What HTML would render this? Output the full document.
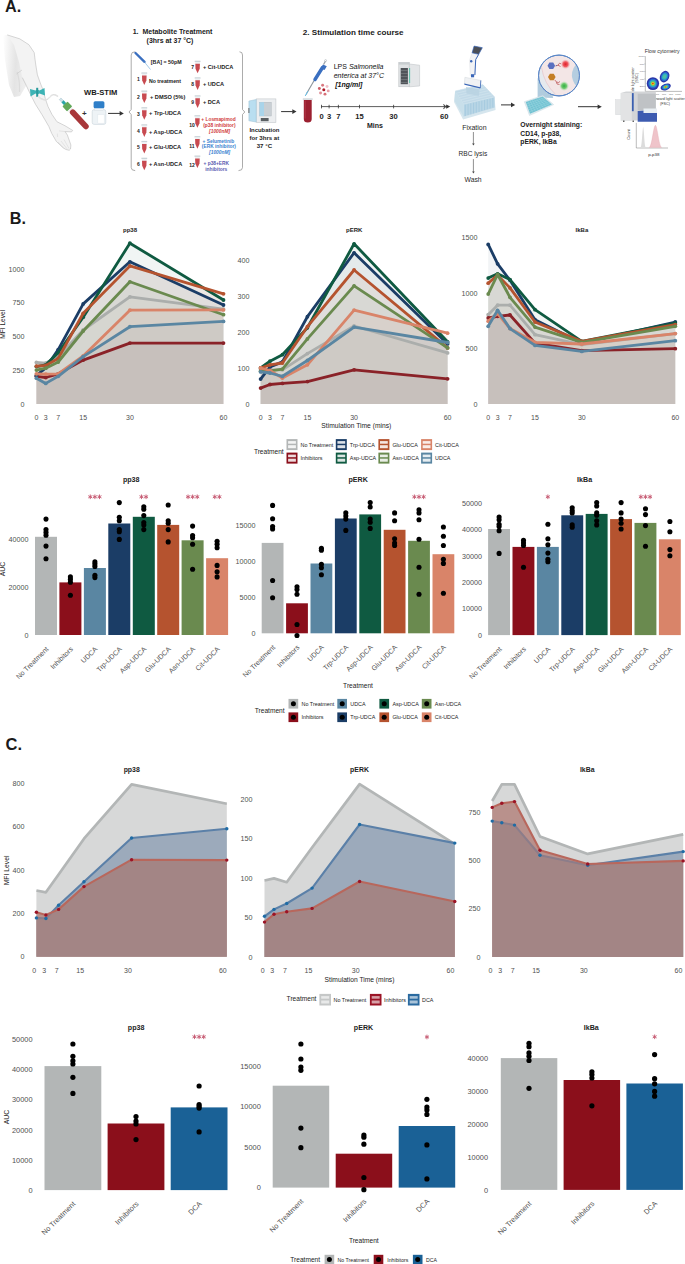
<!DOCTYPE html>
<html><head><meta charset="utf-8"><style>
html,body{margin:0;padding:0;background:#fff;width:685px;height:1264px;overflow:hidden}
svg{display:block;font-family:"Liberation Sans", sans-serif}
</style></head><body>
<svg width="685" height="1264" viewBox="0 0 685 1264">
<rect width="685" height="1264" fill="#fff"/>
<text x="5" y="11.7" font-size="16.2" font-weight="bold" fill="#1a1a1a">A.</text>
<text x="9.8" y="223.5" font-size="16.2" font-weight="bold" fill="#1a1a1a">B.</text>
<text x="5.5" y="750" font-size="16.5" font-weight="bold" fill="#1a1a1a">C.</text>
<defs>
<linearGradient id="armShade" x1="0" y1="0" x2="1" y2="0">
 <stop offset="0" stop-color="#ffffff"/><stop offset="0.35" stop-color="#e9e9e9"/><stop offset="1" stop-color="#f3f3f3"/>
</linearGradient>
<radialGradient id="glowR"><stop offset="0" stop-color="#e0202a"/><stop offset="0.5" stop-color="#ee5a60"/><stop offset="1" stop-color="#f4c0c4" stop-opacity="0"/></radialGradient>
<radialGradient id="glowG"><stop offset="0" stop-color="#30b040"/><stop offset="0.5" stop-color="#70c870"/><stop offset="1" stop-color="#c0e8c0" stop-opacity="0"/></radialGradient>
</defs>
<path d="M7.2,34.9 L19.7,38.8 L28.9,44.7 L34.2,52.6 L35.5,63.1 L37.4,74.9 L40.7,84.1 L43.4,90.7 L45.3,98.6 L48,106.5 L51.9,114.3 L56.9,121.7 L65.1,125.8 L72.7,130.4 L71.5,131.9 L65.1,131.6 L67.4,135.1 L70.9,145 L70.5,149 L69.2,150.3 L66,149.5 L63.4,148 L56.4,141.5 L51.7,133.4 L48.8,126.4 L42,114.7 L35.5,104.3 L30.2,93.8 L26.3,85.6 L22.3,77.6 L18,68 L12,58 L6,45 L4,36 Z" fill="#f3f3f3" stroke="none"/>
<linearGradient id="sh2" x1="0" y1="0" x2="1" y2="0.15"><stop offset="0" stop-color="#fff" stop-opacity="1"/><stop offset="0.6" stop-color="#e4e4e4"/><stop offset="1" stop-color="#eeeeee"/></linearGradient>
<path d="M3,36 L7.2,34.9 L14,45 L19,62 L22.3,77.6 L26.3,85.6 L20,96 L14,97 L9,85 L5,60 Z" fill="url(#sh2)"/>
<path d="M17,72 Q20,80 19.5,92" stroke="#dcdcdc" stroke-width="1.2" fill="none"/>
<path d="M7.2,34.9 L19.7,38.8 L28.9,44.7 L34.2,52.6 L35.5,63.1 L37.4,74.9 L40.7,84.1 L43.4,90.7 L45.3,98.6 L48,106.5 L51.9,114.3 L56.9,121.7 L65.1,125.8 L72.7,130.4 L71.5,131.9 L65.1,131.6 L67.4,135.1 L70.9,145 L70.5,149 L69.2,150.3 L66,149.5 L63.4,148 L56.4,141.5 L51.7,133.4 L48.8,126.4 L42,114.7 L35.5,104.3 L30.2,93.8 L26.3,85.6 L22.3,77.6" fill="none" stroke="#b5b5b5" stroke-width="0.55" stroke-linejoin="round"/>
<path d="M16.5,74 L22,70" stroke="#c0c0c0" stroke-width="0.5" fill="none"/>
<path d="M58,142 L64,148.5 M61,141 L67,148.8 M64,139.5 L69,148.5 M57.3,133.5 L57.6,137 M59,130.9 L65.1,131.6" stroke="#c4c4c4" stroke-width="0.35" fill="none"/>
<path d="M30,89 L35.5,90.5 L37.5,89.5 L39.5,90.5 L44.5,88 L45,95.5 L39.5,93.5 L37.5,94.5 L35.5,93.5 L30.5,96.5 Z" fill="#3db3b5"/>
<rect x="36.2" y="87.8" width="2" height="9" fill="#2a9a9c"/>
<path d="M38,96 C42,101 47,101 50,97 C52,94 55,94 58,96.5" stroke="#d0d0d0" stroke-width="1.2" fill="none"/>
<path d="M38,96 C42,101 47,101 50,97 C52,94 55,94 58,96.5" stroke="#f8f8f8" stroke-width="0.5" fill="none"/>
<g transform="translate(69,108.3) rotate(47)">
<rect x="-13" y="-1.2" width="4" height="2.4" fill="#cfe3ea" stroke="#8ab" stroke-width="0.3"/>
<rect x="-9.5" y="-1.5" width="4" height="3" fill="#2aa5a8"/>
<rect x="-6" y="-3.6" width="7" height="7.2" rx="1" fill="#63a85a"/>
<rect x="1" y="-2.8" width="1.8" height="5.6" fill="#f0f0f0"/>
<rect x="2.6" y="-2.9" width="25" height="5.8" rx="2.9" fill="#a8373a"/>
</g>
<text x="84.4" y="115.6" font-size="8" text-anchor="middle" font-weight="bold" font-style="normal" fill="#333" >+</text>
<text x="84" y="95.0" font-size="7.6" text-anchor="start" font-weight="bold" font-style="normal" fill="#1a1a1a" >WB-STIM</text>
<rect x="92.2" y="109.6" width="13.6" height="14.8" rx="2" fill="#eef3f6" stroke="#c7d3da" stroke-width="0.6"/>
<rect x="94.2" y="107.6" width="9.6" height="3" fill="#f4f6f8" stroke="#cdd6dc" stroke-width="0.4"/>
<rect x="93.6" y="101.2" width="10.8" height="7" rx="1.5" fill="#2f7fc8"/>
<rect x="97.9" y="114.7" width="6.2" height="8.4" fill="#ffffff" stroke="#d8dfe4" stroke-width="0.3"/>
<line x1="108.1" y1="113.4" x2="120.1" y2="113.4" stroke="#333" stroke-width="1.0"/>
<path d="M123.8,113.4 L119.6,111.09 L119.6,115.71000000000001 Z" fill="#333"/>
<text x="132.7" y="33.6" font-size="7.0" text-anchor="start" font-weight="bold" font-style="normal" fill="#222" >1.&#160;&#160;Metabolite Treatment</text>
<text x="146.6" y="42.8" font-size="6.95" text-anchor="start" font-weight="bold" font-style="normal" fill="#222" >(3hrs at 37 °C)</text>
<path d="M135.2,51.8 Q131.2,51.8 131.2,55 L131.2,109.5 L129,112 L131.2,114.5 L131.2,167.5 Q131.2,170.6 135.2,170.6" fill="none" stroke="#888" stroke-width="0.7"/>
<path d="M239.5,51.8 Q242.5,51.8 242.5,55 L242.5,109.5 L244.8,112 L242.5,114.5 L242.5,167.5 Q242.5,170.6 238.5,170.6" fill="none" stroke="#888" stroke-width="0.7"/>
<path d="M135.5,53 L144.5,61.8" stroke="#3a6fc0" stroke-width="2.4" stroke-linecap="round"/>
<path d="M144,61.5 L150.5,69.5" stroke="#6aa8d8" stroke-width="0.6"/>
<text x="150.8" y="64.3" font-size="5.3" text-anchor="start" font-weight="bold" font-style="normal" fill="#222" >[BA] = 50pM</text>
<rect x="141.4" y="72.4" width="5.8" height="1.4" fill="#c9d3d8"/>
<rect x="141.9" y="73.80000000000001" width="4.8" height="1.6" fill="#eef1f3"/>
<path d="M142.0,75.4 L146.60000000000002,75.4 L146.4,80.4 L144.3,85.0 L142.20000000000002,80.4 Z" fill="#c84a50"/>
<text x="138.4" y="80.9" font-size="5" text-anchor="middle" font-weight="bold" font-style="normal" fill="#222" >1</text>
<text x="149" y="83.2" font-size="5.2" text-anchor="start" font-weight="bold" font-style="normal" fill="#1a1a1a" >No treatment</text>
<rect x="141.4" y="90.5" width="5.8" height="1.4" fill="#c9d3d8"/>
<rect x="141.9" y="91.9" width="4.8" height="1.6" fill="#eef1f3"/>
<path d="M142.0,93.5 L146.60000000000002,93.5 L146.4,98.5 L144.3,103.1 L142.20000000000002,98.5 Z" fill="#c84a50"/>
<text x="138.4" y="99.0" font-size="5" text-anchor="middle" font-weight="bold" font-style="normal" fill="#222" >2</text>
<text x="150" y="98.5" font-size="5.65" text-anchor="start" font-weight="bold" font-style="normal" fill="#1a1a1a" >+ DMSO (5%)</text>
<rect x="141.4" y="107.2" width="5.8" height="1.4" fill="#c9d3d8"/>
<rect x="141.9" y="108.60000000000001" width="4.8" height="1.6" fill="#eef1f3"/>
<path d="M142.0,110.2 L146.60000000000002,110.2 L146.4,115.2 L144.3,119.8 L142.20000000000002,115.2 Z" fill="#c84a50"/>
<text x="138.4" y="115.7" font-size="5" text-anchor="middle" font-weight="bold" font-style="normal" fill="#222" >3</text>
<text x="149" y="115.2" font-size="5.7" text-anchor="start" font-weight="bold" font-style="normal" fill="#1a1a1a" >+ Trp-UDCA</text>
<rect x="141.4" y="124.3" width="5.8" height="1.4" fill="#c9d3d8"/>
<rect x="141.9" y="125.7" width="4.8" height="1.6" fill="#eef1f3"/>
<path d="M142.0,127.3 L146.60000000000002,127.3 L146.4,132.3 L144.3,136.9 L142.20000000000002,132.3 Z" fill="#c84a50"/>
<text x="138.4" y="132.8" font-size="5" text-anchor="middle" font-weight="bold" font-style="normal" fill="#222" >4</text>
<text x="149" y="133.6" font-size="5.6" text-anchor="start" font-weight="bold" font-style="normal" fill="#1a1a1a" >+ Asp-UDCA</text>
<rect x="141.4" y="140.9" width="5.8" height="1.4" fill="#c9d3d8"/>
<rect x="141.9" y="142.3" width="4.8" height="1.6" fill="#eef1f3"/>
<path d="M142.0,143.9 L146.60000000000002,143.9 L146.4,148.9 L144.3,153.5 L142.20000000000002,148.9 Z" fill="#c84a50"/>
<text x="138.4" y="149.4" font-size="5" text-anchor="middle" font-weight="bold" font-style="normal" fill="#222" >5</text>
<text x="149" y="148.9" font-size="5.6" text-anchor="start" font-weight="bold" font-style="normal" fill="#1a1a1a" >+ Glu-UDCA</text>
<rect x="141.4" y="157.7" width="5.8" height="1.4" fill="#c9d3d8"/>
<rect x="141.9" y="159.1" width="4.8" height="1.6" fill="#eef1f3"/>
<path d="M142.0,160.7 L146.60000000000002,160.7 L146.4,165.7 L144.3,170.29999999999998 L142.20000000000002,165.7 Z" fill="#c84a50"/>
<text x="138.4" y="166.2" font-size="5" text-anchor="middle" font-weight="bold" font-style="normal" fill="#222" >6</text>
<text x="149" y="166.3" font-size="5.6" text-anchor="start" font-weight="bold" font-style="normal" fill="#1a1a1a" >+ Asn-UDCA</text>
<rect x="194.7" y="60.7" width="5.8" height="1.4" fill="#c9d3d8"/>
<rect x="195.2" y="62.1" width="4.8" height="1.6" fill="#eef1f3"/>
<path d="M195.29999999999998,63.7 L199.9,63.7 L199.7,68.7 L197.6,73.3 L195.5,68.7 Z" fill="#c84a50"/>
<text x="192.6" y="69.2" font-size="5" text-anchor="middle" font-weight="bold" font-style="normal" fill="#222" >7</text>
<text x="203" y="69.2" font-size="5.6" text-anchor="start" font-weight="bold" font-style="normal" fill="#1a1a1a" >+ Cit-UDCA</text>
<rect x="194.7" y="77.3" width="5.8" height="1.4" fill="#c9d3d8"/>
<rect x="195.2" y="78.7" width="4.8" height="1.6" fill="#eef1f3"/>
<path d="M195.29999999999998,80.3 L199.9,80.3 L199.7,85.3 L197.6,89.89999999999999 L195.5,85.3 Z" fill="#c84a50"/>
<text x="192.6" y="85.8" font-size="5" text-anchor="middle" font-weight="bold" font-style="normal" fill="#222" >8</text>
<text x="203" y="85.80000000000001" font-size="5.6" text-anchor="start" font-weight="bold" font-style="normal" fill="#1a1a1a" >+ UDCA</text>
<rect x="194.7" y="95.3" width="5.8" height="1.4" fill="#c9d3d8"/>
<rect x="195.2" y="96.7" width="4.8" height="1.6" fill="#eef1f3"/>
<path d="M195.29999999999998,98.3 L199.9,98.3 L199.7,103.3 L197.6,107.89999999999999 L195.5,103.3 Z" fill="#c84a50"/>
<text x="192.6" y="103.8" font-size="5" text-anchor="middle" font-weight="bold" font-style="normal" fill="#222" >9</text>
<text x="203" y="104.30000000000001" font-size="5.6" text-anchor="start" font-weight="bold" font-style="normal" fill="#1a1a1a" >+ DCA</text>
<rect x="194.5" y="115.2" width="5.8" height="1.4" fill="#c9d3d8"/>
<rect x="195.0" y="116.60000000000001" width="4.8" height="1.6" fill="#eef1f3"/>
<path d="M195.1,118.2 L199.70000000000002,118.2 L199.5,123.2 L197.4,127.8 L195.3,123.2 Z" fill="#c84a50"/>
<text x="192" y="127.0" font-size="5" text-anchor="middle" font-weight="bold" font-style="normal" fill="#222" >10</text>
<rect x="194.5" y="136.1" width="5.8" height="1.4" fill="#c9d3d8"/>
<rect x="195.0" y="137.5" width="4.8" height="1.6" fill="#eef1f3"/>
<path d="M195.1,139.1 L199.70000000000002,139.1 L199.5,144.1 L197.4,148.7 L195.3,144.1 Z" fill="#c84a50"/>
<text x="192" y="147.9" font-size="5" text-anchor="middle" font-weight="bold" font-style="normal" fill="#222" >11</text>
<rect x="194.5" y="155.5" width="5.8" height="1.4" fill="#c9d3d8"/>
<rect x="195.0" y="156.9" width="4.8" height="1.6" fill="#eef1f3"/>
<path d="M195.1,158.5 L199.70000000000002,158.5 L199.5,163.5 L197.4,168.1 L195.3,163.5 Z" fill="#c84a50"/>
<text x="192" y="167.3" font-size="5" text-anchor="middle" font-weight="bold" font-style="normal" fill="#222" >12</text>
<text x="218.5" y="121.3" font-size="4.85" text-anchor="middle" font-weight="bold" font-style="normal" fill="#d03a3a" >+ Losmapimod</text>
<text x="219.4" y="127.0" font-size="4.85" text-anchor="middle" font-weight="bold" font-style="normal" fill="#d03a3a" >(p38 inhibitor)</text>
<text x="219.6" y="132.8" font-size="4.85" text-anchor="middle" font-weight="bold" font-style="italic" fill="#d03a3a" >[1000nM]</text>
<text x="218.4" y="142.6" font-size="4.85" text-anchor="middle" font-weight="bold" font-style="normal" fill="#3a7fd0" >+ Selumetinib</text>
<text x="218.9" y="148.3" font-size="4.85" text-anchor="middle" font-weight="bold" font-style="normal" fill="#3a7fd0" >(ERK inhibitor)</text>
<text x="219.6" y="154.0" font-size="4.85" text-anchor="middle" font-weight="bold" font-style="italic" fill="#3a7fd0" >[1000nM]</text>
<text x="216.3" y="164.9" font-size="4.85" text-anchor="middle" font-weight="bold" font-style="normal" fill="#5a5ab0" >+ p38+ERK</text>
<text x="216.3" y="170.6" font-size="4.85" text-anchor="middle" font-weight="bold" font-style="normal" fill="#5a5ab0" >inhibitors</text>
<line x1="-2" y1="113" x2="-3.7" y2="113" stroke="#333" stroke-width="1.0"/>
<path d="M0,113 L-4.2,110.69 L-4.2,115.31 Z" fill="#333"/>
<rect x="256.2" y="98.9" width="19.7" height="23.6" fill="#eceef0" stroke="#c4c8cc" stroke-width="0.6"/>
<rect x="259.5" y="102.2" width="11.8" height="13.8" fill="#c9cfd4" stroke="#aab2b8" stroke-width="0.4"/>
<rect x="259.5" y="102.2" width="4.5" height="13.8" fill="#a9d4ea"/>
<rect x="260.8" y="118" width="7.8" height="3.2" fill="#5a5f63"/>
<path d="M256.2,99.5 L248.9,101 L248.9,120.8 L256.2,122 Z" fill="#b9def0" stroke="#9cc0d4" stroke-width="0.5"/>
<rect x="248.4" y="108" width="1" height="5" fill="#666"/>
<text x="264.4" y="131.6" font-size="5.95" text-anchor="middle" font-weight="bold" font-style="normal" fill="#1a1a1a" >Incubation</text>
<text x="264.4" y="139.6" font-size="6.1" text-anchor="middle" font-weight="bold" font-style="normal" fill="#1a1a1a" >for 3hrs at</text>
<text x="264.4" y="147.9" font-size="6.1" text-anchor="middle" font-weight="bold" font-style="normal" fill="#1a1a1a" >37 °C</text>
<line x1="281.1" y1="111.6" x2="292.8" y2="111.6" stroke="#333" stroke-width="1.0"/>
<path d="M296.5,111.6 L292.3,109.28999999999999 L292.3,113.91 Z" fill="#333"/>
<text x="302.8" y="35" font-size="8.1" text-anchor="start" font-weight="bold" font-style="normal" fill="#222" >2. Stimulation time course</text>
<rect x="302.8" y="98.2" width="9.9" height="1.8" fill="#d8dde0"/>
<path d="M303.8,100 L311.7,100 L311.7,119 Q311.7,122.5 307.75,122.5 Q303.8,122.5 303.8,119 Z" fill="#9b2030"/>
<rect x="304.6" y="100.5" width="1.2" height="18" fill="#b84050" opacity="0.6"/>
<path d="M306,94.6 L315,79" stroke="#8a9298" stroke-width="1.1"/>
<path d="M305.2,96 L308,91" stroke="#6ac0e8" stroke-width="1.0"/>
<path d="M315,79.5 L322.5,67.5" stroke="#3a6fc0" stroke-width="3.4" stroke-linecap="round"/>
<path d="M320.5,68.5 L323,64.5 L326.8,66.2 L324.5,70 Z" fill="#3a6fc0"/>
<path d="M323.6,64.5 L325.4,61.2" stroke="#9aa2aa" stroke-width="1.3"/>
<circle cx="325.6" cy="60.6" r="1" fill="none" stroke="#9aa2aa" stroke-width="0.5"/>
<circle cx="323.8" cy="89.7" r="1.5" fill="#b01828"/>
<circle cx="328.24" cy="90.89" r="1.45" fill="#e8a0a8"/>
<circle cx="324.99" cy="94.14" r="1.45" fill="#d87078"/>
<circle cx="320.55" cy="92.95" r="1.45" fill="#e09098"/>
<circle cx="319.36" cy="88.51" r="1.45" fill="#d06068"/>
<circle cx="322.61" cy="85.26" r="1.45" fill="#d87880"/>
<circle cx="327.05" cy="86.45" r="1.45" fill="#f0c0c8"/>
<text x="333.7" y="69.2" font-size="7.0" fill="#111">LPS <tspan font-style="italic">Salmonella</tspan></text>
<text x="333.7" y="77.6" font-size="7.0" text-anchor="start" font-weight="normal" font-style="italic" fill="#111" >enterica at 37°C</text>
<text x="335.2" y="86.6" font-size="7.0" text-anchor="start" font-weight="bold" font-style="italic" fill="#111" >[1ng/ml]</text>
<rect x="398.8" y="62.3" width="10.5" height="24.5" fill="#dfe2e4" stroke="#b8bdc0" stroke-width="0.5"/>
<rect x="400.7" y="68" width="7.2" height="16.2" fill="#505459"/>
<line x1="401" y1="70.5" x2="407.6" y2="70.5" stroke="#8a9095" stroke-width="0.5"/>
<line x1="401" y1="73.5" x2="407.6" y2="73.5" stroke="#8a9095" stroke-width="0.5"/>
<line x1="401" y1="76.5" x2="407.6" y2="76.5" stroke="#8a9095" stroke-width="0.5"/>
<line x1="401" y1="79.5" x2="407.6" y2="79.5" stroke="#8a9095" stroke-width="0.5"/>
<line x1="401" y1="82.5" x2="407.6" y2="82.5" stroke="#8a9095" stroke-width="0.5"/>
<path d="M409.3,64 L419.6,65.2 L419.6,86 L409.3,86.8 Z" fill="#e4e6e8" stroke="#b8bdc0" stroke-width="0.5"/>
<rect x="409.3" y="68" width="0.8" height="15" fill="#3cb89a"/>
<rect x="398.8" y="62.3" width="10.5" height="2.3" fill="#c8cdd0"/>
<line x1="321.3" y1="106.6" x2="448" y2="106.6" stroke="#333" stroke-width="0.8"/>
<path d="M450.2,106.6 L446.2,104.4 L446.2,108.8 Z" fill="#333"/>
<path d="M443.2,104.4 L446.2,106.6 L443.2,108.8" fill="none" stroke="#333" stroke-width="0.7"/>
<line x1="321.5" y1="104.8" x2="321.5" y2="108.4" stroke="#333" stroke-width="0.8"/>
<text x="321.5" y="119.1" font-size="7.6" text-anchor="middle" font-weight="bold" font-style="normal" fill="#222" >0</text>
<line x1="329.1" y1="104.8" x2="329.1" y2="108.4" stroke="#333" stroke-width="0.8"/>
<text x="329.1" y="119.1" font-size="7.6" text-anchor="middle" font-weight="bold" font-style="normal" fill="#222" >3</text>
<line x1="338.4" y1="104.8" x2="338.4" y2="108.4" stroke="#333" stroke-width="0.8"/>
<text x="338.4" y="119.1" font-size="7.6" text-anchor="middle" font-weight="bold" font-style="normal" fill="#222" >7</text>
<line x1="359.5" y1="104.8" x2="359.5" y2="108.4" stroke="#333" stroke-width="0.8"/>
<text x="359.5" y="119.1" font-size="7.6" text-anchor="middle" font-weight="bold" font-style="normal" fill="#222" >15</text>
<line x1="393.6" y1="104.8" x2="393.6" y2="108.4" stroke="#333" stroke-width="0.8"/>
<text x="393.6" y="119.1" font-size="7.6" text-anchor="middle" font-weight="bold" font-style="normal" fill="#222" >30</text>
<line x1="444.3" y1="104.8" x2="444.3" y2="108.4" stroke="#333" stroke-width="0.8"/>
<text x="444.3" y="119.1" font-size="7.6" text-anchor="middle" font-weight="bold" font-style="normal" fill="#222" >60</text>
<text x="375" y="128.1" font-size="7.0" text-anchor="middle" font-weight="bold" font-style="normal" fill="#222" >Mins</text>
<path d="M455.1,91 L482.8,84.4 L494.5,96.8 L495.6,109.9 L463.1,119.4 L454,101.9 Z" fill="#d6e6ee"/>
<path d="M455.1,91 L482.8,84.4 L494.5,96.8 L463.9,104.1 Z" fill="#c2dae8"/>
<path d="M463.9,104.1 L494.5,96.8 L494.8,107.5 L463.5,116.5 Z" fill="#b9d6e6"/>
<path d="M455.1,91 L463.9,104.1 L463.5,116.5 L454.6,101 Z" fill="#c8dfea"/>
<line x1="465.30" y1="104.60" x2="465.30" y2="116.10" stroke="#9fc6dc" stroke-width="0.7"/>
<line x1="468.05" y1="103.94" x2="468.05" y2="115.24" stroke="#9fc6dc" stroke-width="0.7"/>
<line x1="470.80" y1="103.28" x2="470.80" y2="114.38" stroke="#9fc6dc" stroke-width="0.7"/>
<line x1="473.55" y1="102.62" x2="473.55" y2="113.52" stroke="#9fc6dc" stroke-width="0.7"/>
<line x1="476.30" y1="101.96" x2="476.30" y2="112.66" stroke="#9fc6dc" stroke-width="0.7"/>
<line x1="479.05" y1="101.30" x2="479.05" y2="111.80" stroke="#9fc6dc" stroke-width="0.7"/>
<line x1="481.80" y1="100.64" x2="481.80" y2="110.94" stroke="#9fc6dc" stroke-width="0.7"/>
<line x1="484.55" y1="99.98" x2="484.55" y2="110.08" stroke="#9fc6dc" stroke-width="0.7"/>
<line x1="487.30" y1="99.32" x2="487.30" y2="109.22" stroke="#9fc6dc" stroke-width="0.7"/>
<line x1="490.05" y1="98.66" x2="490.05" y2="108.36" stroke="#9fc6dc" stroke-width="0.7"/>
<line x1="492.80" y1="98.00" x2="492.80" y2="107.50" stroke="#9fc6dc" stroke-width="0.7"/>
<line x1="455.10" y1="91.00" x2="482.80" y2="84.40" stroke="#d8e8f0" stroke-width="0.5"/>
<line x1="456.57" y1="93.18" x2="484.75" y2="86.47" stroke="#d8e8f0" stroke-width="0.5"/>
<line x1="458.03" y1="95.37" x2="486.70" y2="88.53" stroke="#d8e8f0" stroke-width="0.5"/>
<line x1="459.50" y1="97.55" x2="488.65" y2="90.60" stroke="#d8e8f0" stroke-width="0.5"/>
<line x1="460.97" y1="99.73" x2="490.60" y2="92.67" stroke="#d8e8f0" stroke-width="0.5"/>
<line x1="462.43" y1="101.92" x2="492.55" y2="94.73" stroke="#d8e8f0" stroke-width="0.5"/>
<line x1="463.90" y1="104.10" x2="494.50" y2="96.80" stroke="#d8e8f0" stroke-width="0.5"/>
<path d="M472.1,52.8 L478.7,54.3 L475.7,59.4 L474.8,75.8 L470.2,75.8 L469.5,60.4 Z" fill="#f2f3f5" stroke="#d0d4d8" stroke-width="0.3"/>
<path d="M478.7,54.3 L475.7,59.6 L474.9,75" stroke="#3a66b8" stroke-width="1.0" fill="none"/>
<path d="M474.1,46.1 L482.3,47.7 L478.7,54.3 L472.1,52.8 Z" fill="#4a4e55" stroke="#3a66b8" stroke-width="0.7"/>
<circle cx="471.2" cy="61.2" r="1.2" fill="#3a66b8"/>
<rect x="471" y="74.2" width="3.1" height="3.1" fill="#3a66b8"/>
<path d="M466,87 L479.5,89.5 L478.8,96 L466.5,93.5 Z" fill="#b8d2e2" opacity="0.85"/>
<path d="M464.9,77.3 L480.8,80.4 L480.3,88 L464.4,83.9 Z" fill="#f0f2f4" stroke="#c8ced4" stroke-width="0.4"/>
<path d="M464.4,83.4 L480.3,87.2 L480.3,88.6 L464.4,84.8 Z" fill="#3a66b8"/>
<path d="M480.8,80.4 L480.3,88" stroke="#3a66b8" stroke-width="0.8"/>
<text x="474.4" y="130.2" font-size="7.0" text-anchor="middle" font-weight="normal" font-style="normal" fill="#2a2a2a" >Fixation</text>
<line x1="473.4" y1="132" x2="473.4" y2="144.1" stroke="#444" stroke-width="0.6"/>
<path d="M473.4,145.6 L472.09999999999997,143.4 L474.7,143.4 Z" fill="#444"/>
<text x="472.9" y="156.1" font-size="6.6" text-anchor="middle" font-weight="normal" font-style="normal" fill="#2a2a2a" >RBC lysis</text>
<line x1="473.4" y1="159.1" x2="473.4" y2="172.1" stroke="#444" stroke-width="0.6"/>
<path d="M473.4,173.6 L472.09999999999997,171.4 L474.7,171.4 Z" fill="#444"/>
<text x="473.1" y="181.9" font-size="6.8" text-anchor="middle" font-weight="normal" font-style="normal" fill="#2a2a2a" >Wash</text>
<line x1="501" y1="104.9" x2="511.50000000000006" y2="104.9" stroke="#333" stroke-width="1.0"/>
<path d="M515.2,104.9 L511.00000000000006,102.59 L511.00000000000006,107.21000000000001 Z" fill="#333"/>
<path d="M537.6,78 L537.6,97.4 L553.2,98 L552,93 Z" fill="#a9c6da" opacity="0.9"/>
<path d="M524.3,101.7 L542.8,95.5 L553.7,104.6 L529.5,115.5 Z" fill="#dfeaee" stroke="#c9dbe2" stroke-width="0.5"/>
<path d="M525.8,101.9 L542.6,96.6 L551.9,104.5 L530,113.8 Z" fill="#72c2d2"/>
<line x1="527.90" y1="101.24" x2="532.74" y2="112.64" stroke="#a8dce6" stroke-width="0.35"/>
<line x1="530.00" y1="100.58" x2="535.48" y2="111.47" stroke="#a8dce6" stroke-width="0.35"/>
<line x1="532.10" y1="99.91" x2="538.21" y2="110.31" stroke="#a8dce6" stroke-width="0.35"/>
<line x1="534.20" y1="99.25" x2="540.95" y2="109.15" stroke="#a8dce6" stroke-width="0.35"/>
<line x1="536.30" y1="98.59" x2="543.69" y2="107.99" stroke="#a8dce6" stroke-width="0.35"/>
<line x1="538.40" y1="97.92" x2="546.42" y2="106.83" stroke="#a8dce6" stroke-width="0.35"/>
<line x1="540.50" y1="97.26" x2="549.16" y2="105.66" stroke="#a8dce6" stroke-width="0.35"/>
<line x1="526.50" y1="103.88" x2="544.15" y2="97.92" stroke="#a8dce6" stroke-width="0.35"/>
<line x1="527.20" y1="105.87" x2="545.70" y2="99.23" stroke="#a8dce6" stroke-width="0.35"/>
<line x1="527.90" y1="107.85" x2="547.25" y2="100.55" stroke="#a8dce6" stroke-width="0.35"/>
<line x1="528.60" y1="109.83" x2="548.80" y2="101.87" stroke="#a8dce6" stroke-width="0.35"/>
<line x1="529.30" y1="111.82" x2="550.35" y2="103.18" stroke="#a8dce6" stroke-width="0.35"/>
<circle cx="559" cy="75.5" r="20.4" fill="#f3e6e6" stroke="#4a78c0" stroke-width="0.9"/>
<path d="M541.5,67 Q544,84 556,94.8 Q545,92 540,83 Q538,74 541.5,67 Z" fill="#e6eaee"/>
<path d="M541.5,67 Q544,84 556,94.8" fill="none" stroke="#e0a8b0" stroke-width="0.4"/>
<clipPath id="circClip"><circle cx="559" cy="75.5" r="20"/></clipPath>
<path d="M580,60 Q571,68 572,77 Q574,86 581,90 L590,90 L590,60 Z" fill="#b4cde0" clip-path="url(#circClip)"/>
<circle cx="559" cy="75.5" r="20.4" fill="none" stroke="#5a88c8" stroke-width="1.0"/>
<polygon points="555.10,65.70 553.20,68.99 549.40,68.99 547.50,65.70 549.40,62.41 553.20,62.41" fill="#5a70c0"/>
<polygon points="555.60,77.00 553.70,80.29 549.90,80.29 548.00,77.00 549.90,73.71 553.70,73.71" fill="#c47e24"/>
<path d="M555.5,66 L558,65.2 M558,65.2 L559.5,63.2 M558,65.2 L560.5,66.5 M559.5,63.2 L561,63.8" stroke="#b84848" stroke-width="0.7" fill="none"/>
<circle cx="556.3" cy="65.6" r="0.5" fill="#4a60b0"/>
<path d="M554.8,80 L556.5,82 L558.5,82.5 M556.5,82 L557,84 L559.5,84.5 M558.5,82.5 L560,81.5" stroke="#b84848" stroke-width="0.7" fill="none"/>
<circle cx="565.5" cy="64.2" r="5" fill="url(#glowR)"/>
<circle cx="564.1" cy="86" r="5" fill="url(#glowG)"/>
<text x="520.3" y="127.2" font-size="6.75" text-anchor="start" font-weight="bold" font-style="normal" fill="#1a1a1a" >Overnight staining:</text>
<text x="520.3" y="136.0" font-size="6.75" text-anchor="start" font-weight="bold" font-style="normal" fill="#1a1a1a" >CD14, p-p38,</text>
<text x="520.3" y="144.3" font-size="6.75" text-anchor="start" font-weight="bold" font-style="normal" fill="#1a1a1a" >pERK, IkBa</text>
<line x1="578" y1="106.7" x2="598.0999999999999" y2="106.7" stroke="#333" stroke-width="1.0"/>
<path d="M601.8,106.7 L597.5999999999999,104.39 L597.5999999999999,109.01 Z" fill="#333"/>
<text x="662.2" y="53.1" font-size="5.2" text-anchor="middle" font-weight="normal" font-style="normal" fill="#333" >Flow cytometry</text>
<line x1="645.3" y1="56.4" x2="645.3" y2="91.4" stroke="#555" stroke-width="0.4"/>
<line x1="645.3" y1="91.4" x2="682" y2="91.4" stroke="#555" stroke-width="0.4"/>
<line x1="644.3" y1="56.5" x2="645.3" y2="56.5" stroke="#555" stroke-width="0.3"/>
<text x="643.8" y="57.3" font-size="2.4" text-anchor="end" font-weight="normal" font-style="normal" fill="#666" >1000</text>
<line x1="644.3" y1="64.0" x2="645.3" y2="64.0" stroke="#555" stroke-width="0.3"/>
<text x="643.8" y="64.8" font-size="2.4" text-anchor="end" font-weight="normal" font-style="normal" fill="#666" >800</text>
<line x1="644.3" y1="71.5" x2="645.3" y2="71.5" stroke="#555" stroke-width="0.3"/>
<text x="643.8" y="72.3" font-size="2.4" text-anchor="end" font-weight="normal" font-style="normal" fill="#666" >600</text>
<line x1="644.3" y1="79.0" x2="645.3" y2="79.0" stroke="#555" stroke-width="0.3"/>
<text x="643.8" y="79.8" font-size="2.4" text-anchor="end" font-weight="normal" font-style="normal" fill="#666" >400</text>
<line x1="644.3" y1="86.5" x2="645.3" y2="86.5" stroke="#555" stroke-width="0.3"/>
<text x="643.8" y="87.3" font-size="2.4" text-anchor="end" font-weight="normal" font-style="normal" fill="#666" >200</text>
<text x="650" y="95.2" font-size="2.4" text-anchor="middle" font-weight="normal" font-style="normal" fill="#666" >200</text>
<text x="657" y="95.2" font-size="2.4" text-anchor="middle" font-weight="normal" font-style="normal" fill="#666" >400</text>
<text x="664" y="95.2" font-size="2.4" text-anchor="middle" font-weight="normal" font-style="normal" fill="#666" >600</text>
<text x="671" y="95.2" font-size="2.4" text-anchor="middle" font-weight="normal" font-style="normal" fill="#666" >800</text>
<text x="678" y="95.2" font-size="2.4" text-anchor="middle" font-weight="normal" font-style="normal" fill="#666" >1000</text>
<text x="633.8" y="81" font-size="3.7" text-anchor="middle" font-weight="normal" font-style="normal" fill="#333" transform="rotate(-90 633.8 81)">Side light scatter</text>
<text x="637.6" y="78" font-size="3.7" text-anchor="middle" font-weight="normal" font-style="normal" fill="#333" transform="rotate(-90 637.6 78)">(SSC)</text>
<ellipse cx="652.9" cy="83.6" rx="6.20" ry="6.40" fill="#2a36a8" transform="rotate(0 652.9 83.6)"/>
<ellipse cx="652.9" cy="83.6" rx="4.65" ry="4.80" fill="#2a6ad0" transform="rotate(0 652.9 83.6)"/>
<ellipse cx="652.9" cy="83.6" rx="3.41" ry="3.52" fill="#30b0c0" transform="rotate(0 652.9 83.6)"/>
<ellipse cx="652.9" cy="83.6" rx="2.36" ry="2.43" fill="#70c860" transform="rotate(0 652.9 83.6)"/>
<ellipse cx="652.9" cy="83.6" rx="1.49" ry="1.54" fill="#e8d020" transform="rotate(0 652.9 83.6)"/>
<ellipse cx="652.9" cy="83.6" rx="0.81" ry="0.83" fill="#e02020" transform="rotate(0 652.9 83.6)"/>
<ellipse cx="664.6" cy="76.6" rx="4.60" ry="6.00" fill="#2a36a8" transform="rotate(25 664.6 76.6)"/>
<ellipse cx="664.6" cy="76.6" rx="3.59" ry="4.68" fill="#2a6ad0" transform="rotate(25 664.6 76.6)"/>
<ellipse cx="664.6" cy="76.6" rx="2.53" ry="3.30" fill="#30b0c0" transform="rotate(25 664.6 76.6)"/>
<ellipse cx="664.6" cy="76.6" rx="1.47" ry="1.92" fill="#50c0a0" transform="rotate(25 664.6 76.6)"/>
<ellipse cx="665.7" cy="86.9" rx="5.30" ry="3.20" fill="#2a36a8" transform="rotate(-20 665.7 86.9)"/>
<ellipse cx="665.7" cy="86.9" rx="3.97" ry="2.40" fill="#2a6ad0" transform="rotate(-20 665.7 86.9)"/>
<ellipse cx="665.7" cy="86.9" rx="2.92" ry="1.76" fill="#30b0c0" transform="rotate(-20 665.7 86.9)"/>
<ellipse cx="665.7" cy="86.9" rx="2.01" ry="1.22" fill="#70c860" transform="rotate(-20 665.7 86.9)"/>
<ellipse cx="665.7" cy="86.9" rx="1.27" ry="0.77" fill="#e8d020" transform="rotate(-20 665.7 86.9)"/>
<ellipse cx="665.7" cy="86.9" rx="0.69" ry="0.42" fill="#e02020" transform="rotate(-20 665.7 86.9)"/>
<text x="668" y="100.3" font-size="3.7" text-anchor="middle" font-weight="normal" font-style="normal" fill="#333" >Forward light scatter</text>
<text x="665" y="104.8" font-size="3.7" text-anchor="middle" font-weight="normal" font-style="normal" fill="#333" >(FSC)</text>
<rect x="615.5" y="99.6" width="6" height="15.1" fill="#e6e7e8" stroke="#c8cacc" stroke-width="0.3"/>
<path d="M620.8,93 L626,91.4 L655.8,91.4 L655.8,120.6 L620.8,120.6 Z" fill="#d3d5d7"/>
<rect x="620.8" y="93" width="11" height="27.6" fill="#e2e3e4"/>
<rect x="637.7" y="93.7" width="18.1" height="16.3" fill="#bfc2c5"/>
<rect x="631.9" y="93.1" width="1.8" height="18.1" fill="#3a5fb0"/>
<path d="M637.7,111 L657,109.8 L657,121.8 L637.7,121.8 Z" fill="#3d5bb0"/>
<rect x="643.5" y="108.5" width="13.5" height="4.5" fill="#e8eef2"/>
<rect x="632.5" y="120.6" width="1.5" height="1.2" fill="#444"/>
<rect x="623" y="120.6" width="1.5" height="1.2" fill="#444"/>
<line x1="636.3" y1="122.9" x2="636.3" y2="148" stroke="#555" stroke-width="0.4"/>
<line x1="636.3" y1="148" x2="668" y2="148" stroke="#555" stroke-width="0.4"/>
<path d="M640.6,147.4 C642,147 642.4,128 643.2,127 C644,128 644.4,147 645.8,147.4 Z" fill="#dcdcdc"/>
<path d="M649.4,147.4 C652,146 653.5,125.5 655.4,125.3 C657.3,125.5 658.8,146 661.5,147.4 Z" fill="#efc4ca" stroke="#e0a0aa" stroke-width="0.3"/>
<text x="629.8" y="134.5" font-size="3.9" text-anchor="middle" font-weight="normal" font-style="normal" fill="#333" transform="rotate(-90 629.8 134.5)">Count</text>
<text x="653.8" y="156.3" font-size="4.4" text-anchor="middle" font-weight="normal" font-style="normal" fill="#333" >p-p38</text>
<text x="130.0" y="232.2" font-size="6.0" text-anchor="middle" font-weight="bold" font-style="normal" fill="#222" >pp38</text>
<text x="24.4" y="406.5" font-size="7.2" text-anchor="end" font-weight="normal" font-style="normal" fill="#505050" >0</text>
<text x="24.4" y="372.8" font-size="7.2" text-anchor="end" font-weight="normal" font-style="normal" fill="#505050" >250</text>
<text x="24.4" y="339.1" font-size="7.2" text-anchor="end" font-weight="normal" font-style="normal" fill="#505050" >500</text>
<text x="24.4" y="305.4" font-size="7.2" text-anchor="end" font-weight="normal" font-style="normal" fill="#505050" >750</text>
<text x="24.4" y="271.7" font-size="7.2" text-anchor="end" font-weight="normal" font-style="normal" fill="#505050" >1000</text>
<polygon points="36.4,403.9 36.4,362.5 45.8,363.1 58.2,356.7 83.2,330.0 129.9,296.9 223.5,309.1 223.5,403.9" fill="#b3b6b6" fill-opacity="0.06"/>
<polygon points="36.4,403.9 36.4,376.3 45.8,377.5 58.2,373.8 83.2,360.1 129.9,343.1 223.5,343.1 223.5,403.9" fill="#8b0f1b" fill-opacity="0.06"/>
<polygon points="36.4,403.9 36.4,375.5 45.8,367.8 58.2,349.6 83.2,303.9 129.9,261.8 223.5,305.0 223.5,403.9" fill="#1b3d66" fill-opacity="0.06"/>
<polygon points="36.4,403.9 36.4,366.6 45.8,364.8 58.2,352.7 83.2,317.2 129.9,243.2 223.5,300.0 223.5,403.9" fill="#0f5a41" fill-opacity="0.06"/>
<polygon points="36.4,403.9 36.4,366.2 45.8,365.5 58.2,358.5 83.2,313.3 129.9,265.9 223.5,293.8 223.5,403.9" fill="#b5532f" fill-opacity="0.08"/>
<polygon points="36.4,403.9 36.4,370.1 45.8,368.2 58.2,362.0 83.2,331.0 129.9,281.8 223.5,314.7 223.5,403.9" fill="#6a8a4f" fill-opacity="0.06"/>
<polygon points="36.4,403.9 36.4,373.8 45.8,374.2 58.2,373.8 83.2,355.9 129.9,310.2 223.5,309.9 223.5,403.9" fill="#d98469" fill-opacity="0.08"/>
<polygon points="36.4,403.9 36.4,378.2 45.8,383.4 58.2,376.3 83.2,356.6 129.9,326.7 223.5,321.4 223.5,403.9" fill="#5a86a2" fill-opacity="0.06"/>
<polyline points="36.4,362.5 45.8,363.1 58.2,356.7 83.2,330.0 129.9,296.9 223.5,309.1" fill="none" stroke="#abaeac" stroke-width="2.8" stroke-linejoin="round"/>
<circle cx="36.4" cy="362.5" r="1.9" fill="#abaeac"/>
<circle cx="45.8" cy="363.1" r="1.9" fill="#abaeac"/>
<circle cx="58.2" cy="356.7" r="1.9" fill="#abaeac"/>
<circle cx="83.2" cy="330.0" r="1.9" fill="#abaeac"/>
<circle cx="129.9" cy="296.9" r="1.9" fill="#abaeac"/>
<circle cx="223.5" cy="309.1" r="1.9" fill="#abaeac"/>
<polyline points="36.4,376.3 45.8,377.5 58.2,373.8 83.2,360.1 129.9,343.1 223.5,343.1" fill="none" stroke="#8a2228" stroke-width="2.8" stroke-linejoin="round"/>
<circle cx="36.4" cy="376.3" r="1.9" fill="#8a2228"/>
<circle cx="45.8" cy="377.5" r="1.9" fill="#8a2228"/>
<circle cx="58.2" cy="373.8" r="1.9" fill="#8a2228"/>
<circle cx="83.2" cy="360.1" r="1.9" fill="#8a2228"/>
<circle cx="129.9" cy="343.1" r="1.9" fill="#8a2228"/>
<circle cx="223.5" cy="343.1" r="1.9" fill="#8a2228"/>
<polyline points="36.4,375.5 45.8,367.8 58.2,349.6 83.2,303.9 129.9,261.8 223.5,305.0" fill="none" stroke="#1b3d66" stroke-width="2.8" stroke-linejoin="round"/>
<circle cx="36.4" cy="375.5" r="1.9" fill="#1b3d66"/>
<circle cx="45.8" cy="367.8" r="1.9" fill="#1b3d66"/>
<circle cx="58.2" cy="349.6" r="1.9" fill="#1b3d66"/>
<circle cx="83.2" cy="303.9" r="1.9" fill="#1b3d66"/>
<circle cx="129.9" cy="261.8" r="1.9" fill="#1b3d66"/>
<circle cx="223.5" cy="305.0" r="1.9" fill="#1b3d66"/>
<polyline points="36.4,366.6 45.8,364.8 58.2,352.7 83.2,317.2 129.9,243.2 223.5,300.0" fill="none" stroke="#0f5a41" stroke-width="2.8" stroke-linejoin="round"/>
<circle cx="36.4" cy="366.6" r="1.9" fill="#0f5a41"/>
<circle cx="45.8" cy="364.8" r="1.9" fill="#0f5a41"/>
<circle cx="58.2" cy="352.7" r="1.9" fill="#0f5a41"/>
<circle cx="83.2" cy="317.2" r="1.9" fill="#0f5a41"/>
<circle cx="129.9" cy="243.2" r="1.9" fill="#0f5a41"/>
<circle cx="223.5" cy="300.0" r="1.9" fill="#0f5a41"/>
<polyline points="36.4,366.2 45.8,365.5 58.2,358.5 83.2,313.3 129.9,265.9 223.5,293.8" fill="none" stroke="#b5532f" stroke-width="2.8" stroke-linejoin="round"/>
<circle cx="36.4" cy="366.2" r="1.9" fill="#b5532f"/>
<circle cx="45.8" cy="365.5" r="1.9" fill="#b5532f"/>
<circle cx="58.2" cy="358.5" r="1.9" fill="#b5532f"/>
<circle cx="83.2" cy="313.3" r="1.9" fill="#b5532f"/>
<circle cx="129.9" cy="265.9" r="1.9" fill="#b5532f"/>
<circle cx="223.5" cy="293.8" r="1.9" fill="#b5532f"/>
<polyline points="36.4,370.1 45.8,368.2 58.2,362.0 83.2,331.0 129.9,281.8 223.5,314.7" fill="none" stroke="#6a8a4f" stroke-width="2.8" stroke-linejoin="round"/>
<circle cx="36.4" cy="370.1" r="1.9" fill="#6a8a4f"/>
<circle cx="45.8" cy="368.2" r="1.9" fill="#6a8a4f"/>
<circle cx="58.2" cy="362.0" r="1.9" fill="#6a8a4f"/>
<circle cx="83.2" cy="331.0" r="1.9" fill="#6a8a4f"/>
<circle cx="129.9" cy="281.8" r="1.9" fill="#6a8a4f"/>
<circle cx="223.5" cy="314.7" r="1.9" fill="#6a8a4f"/>
<polyline points="36.4,373.8 45.8,374.2 58.2,373.8 83.2,355.9 129.9,310.2 223.5,309.9" fill="none" stroke="#d98469" stroke-width="2.8" stroke-linejoin="round"/>
<circle cx="36.4" cy="373.8" r="1.9" fill="#d98469"/>
<circle cx="45.8" cy="374.2" r="1.9" fill="#d98469"/>
<circle cx="58.2" cy="373.8" r="1.9" fill="#d98469"/>
<circle cx="83.2" cy="355.9" r="1.9" fill="#d98469"/>
<circle cx="129.9" cy="310.2" r="1.9" fill="#d98469"/>
<circle cx="223.5" cy="309.9" r="1.9" fill="#d98469"/>
<polyline points="36.4,378.2 45.8,383.4 58.2,376.3 83.2,356.6 129.9,326.7 223.5,321.4" fill="none" stroke="#5a86a2" stroke-width="2.8" stroke-linejoin="round"/>
<circle cx="36.4" cy="378.2" r="1.9" fill="#5a86a2"/>
<circle cx="45.8" cy="383.4" r="1.9" fill="#5a86a2"/>
<circle cx="58.2" cy="376.3" r="1.9" fill="#5a86a2"/>
<circle cx="83.2" cy="356.6" r="1.9" fill="#5a86a2"/>
<circle cx="129.9" cy="326.7" r="1.9" fill="#5a86a2"/>
<circle cx="223.5" cy="321.4" r="1.9" fill="#5a86a2"/>
<text x="36.4" y="420.2" font-size="7" text-anchor="middle" font-weight="normal" font-style="normal" fill="#505050" >0</text>
<text x="45.8" y="420.2" font-size="7" text-anchor="middle" font-weight="normal" font-style="normal" fill="#505050" >3</text>
<text x="58.2" y="420.2" font-size="7" text-anchor="middle" font-weight="normal" font-style="normal" fill="#505050" >7</text>
<text x="83.2" y="420.2" font-size="7" text-anchor="middle" font-weight="normal" font-style="normal" fill="#505050" >15</text>
<text x="129.9" y="420.2" font-size="7" text-anchor="middle" font-weight="normal" font-style="normal" fill="#505050" >30</text>
<text x="223.5" y="420.2" font-size="7" text-anchor="middle" font-weight="normal" font-style="normal" fill="#505050" >60</text>
<text x="354.2" y="232.2" font-size="6.0" text-anchor="middle" font-weight="bold" font-style="normal" fill="#222" >pERK</text>
<text x="249.5" y="406.5" font-size="7.2" text-anchor="end" font-weight="normal" font-style="normal" fill="#505050" >0</text>
<text x="249.5" y="370.6" font-size="7.2" text-anchor="end" font-weight="normal" font-style="normal" fill="#505050" >100</text>
<text x="249.5" y="334.7" font-size="7.2" text-anchor="end" font-weight="normal" font-style="normal" fill="#505050" >200</text>
<text x="249.5" y="298.8" font-size="7.2" text-anchor="end" font-weight="normal" font-style="normal" fill="#505050" >300</text>
<text x="249.5" y="262.9" font-size="7.2" text-anchor="end" font-weight="normal" font-style="normal" fill="#505050" >400</text>
<polygon points="260.6,403.9 260.6,369.8 270.0,369.8 282.4,369.8 307.4,353.6 354.1,326.0 447.6,352.9 447.6,403.9" fill="#b3b6b6" fill-opacity="0.06"/>
<polygon points="260.6,403.9 260.6,388.1 270.0,384.5 282.4,383.4 307.4,381.6 354.1,369.8 447.6,378.8 447.6,403.9" fill="#8b0f1b" fill-opacity="0.06"/>
<polygon points="260.6,403.9 260.6,379.1 270.0,366.9 282.4,361.9 307.4,316.7 354.1,252.8 447.6,343.9 447.6,403.9" fill="#1b3d66" fill-opacity="0.06"/>
<polygon points="260.6,403.9 260.6,368.0 270.0,361.2 282.4,354.7 307.4,327.8 354.1,243.8 447.6,341.8 447.6,403.9" fill="#0f5a41" fill-opacity="0.06"/>
<polygon points="260.6,403.9 260.6,368.0 270.0,364.8 282.4,363.0 307.4,326.7 354.1,270.0 447.6,347.9 447.6,403.9" fill="#b5532f" fill-opacity="0.08"/>
<polygon points="260.6,403.9 260.6,371.2 270.0,370.9 282.4,369.1 307.4,338.9 354.1,285.8 447.6,347.9 447.6,403.9" fill="#6a8a4f" fill-opacity="0.06"/>
<polygon points="260.6,403.9 260.6,368.0 270.0,370.5 282.4,378.1 307.4,364.8 354.1,310.2 447.6,333.2 447.6,403.9" fill="#d98469" fill-opacity="0.08"/>
<polygon points="260.6,403.9 260.6,371.9 270.0,373.0 282.4,376.3 307.4,360.5 354.1,327.1 447.6,342.5 447.6,403.9" fill="#5a86a2" fill-opacity="0.06"/>
<polyline points="260.6,369.8 270.0,369.8 282.4,369.8 307.4,353.6 354.1,326.0 447.6,352.9" fill="none" stroke="#abaeac" stroke-width="2.8" stroke-linejoin="round"/>
<circle cx="260.6" cy="369.8" r="1.9" fill="#abaeac"/>
<circle cx="270.0" cy="369.8" r="1.9" fill="#abaeac"/>
<circle cx="282.4" cy="369.8" r="1.9" fill="#abaeac"/>
<circle cx="307.4" cy="353.6" r="1.9" fill="#abaeac"/>
<circle cx="354.1" cy="326.0" r="1.9" fill="#abaeac"/>
<circle cx="447.6" cy="352.9" r="1.9" fill="#abaeac"/>
<polyline points="260.6,388.1 270.0,384.5 282.4,383.4 307.4,381.6 354.1,369.8 447.6,378.8" fill="none" stroke="#8a2228" stroke-width="2.8" stroke-linejoin="round"/>
<circle cx="260.6" cy="388.1" r="1.9" fill="#8a2228"/>
<circle cx="270.0" cy="384.5" r="1.9" fill="#8a2228"/>
<circle cx="282.4" cy="383.4" r="1.9" fill="#8a2228"/>
<circle cx="307.4" cy="381.6" r="1.9" fill="#8a2228"/>
<circle cx="354.1" cy="369.8" r="1.9" fill="#8a2228"/>
<circle cx="447.6" cy="378.8" r="1.9" fill="#8a2228"/>
<polyline points="260.6,379.1 270.0,366.9 282.4,361.9 307.4,316.7 354.1,252.8 447.6,343.9" fill="none" stroke="#1b3d66" stroke-width="2.8" stroke-linejoin="round"/>
<circle cx="260.6" cy="379.1" r="1.9" fill="#1b3d66"/>
<circle cx="270.0" cy="366.9" r="1.9" fill="#1b3d66"/>
<circle cx="282.4" cy="361.9" r="1.9" fill="#1b3d66"/>
<circle cx="307.4" cy="316.7" r="1.9" fill="#1b3d66"/>
<circle cx="354.1" cy="252.8" r="1.9" fill="#1b3d66"/>
<circle cx="447.6" cy="343.9" r="1.9" fill="#1b3d66"/>
<polyline points="260.6,368.0 270.0,361.2 282.4,354.7 307.4,327.8 354.1,243.8 447.6,341.8" fill="none" stroke="#0f5a41" stroke-width="2.8" stroke-linejoin="round"/>
<circle cx="260.6" cy="368.0" r="1.9" fill="#0f5a41"/>
<circle cx="270.0" cy="361.2" r="1.9" fill="#0f5a41"/>
<circle cx="282.4" cy="354.7" r="1.9" fill="#0f5a41"/>
<circle cx="307.4" cy="327.8" r="1.9" fill="#0f5a41"/>
<circle cx="354.1" cy="243.8" r="1.9" fill="#0f5a41"/>
<circle cx="447.6" cy="341.8" r="1.9" fill="#0f5a41"/>
<polyline points="260.6,368.0 270.0,364.8 282.4,363.0 307.4,326.7 354.1,270.0 447.6,347.9" fill="none" stroke="#b5532f" stroke-width="2.8" stroke-linejoin="round"/>
<circle cx="260.6" cy="368.0" r="1.9" fill="#b5532f"/>
<circle cx="270.0" cy="364.8" r="1.9" fill="#b5532f"/>
<circle cx="282.4" cy="363.0" r="1.9" fill="#b5532f"/>
<circle cx="307.4" cy="326.7" r="1.9" fill="#b5532f"/>
<circle cx="354.1" cy="270.0" r="1.9" fill="#b5532f"/>
<circle cx="447.6" cy="347.9" r="1.9" fill="#b5532f"/>
<polyline points="260.6,371.2 270.0,370.9 282.4,369.1 307.4,338.9 354.1,285.8 447.6,347.9" fill="none" stroke="#6a8a4f" stroke-width="2.8" stroke-linejoin="round"/>
<circle cx="260.6" cy="371.2" r="1.9" fill="#6a8a4f"/>
<circle cx="270.0" cy="370.9" r="1.9" fill="#6a8a4f"/>
<circle cx="282.4" cy="369.1" r="1.9" fill="#6a8a4f"/>
<circle cx="307.4" cy="338.9" r="1.9" fill="#6a8a4f"/>
<circle cx="354.1" cy="285.8" r="1.9" fill="#6a8a4f"/>
<circle cx="447.6" cy="347.9" r="1.9" fill="#6a8a4f"/>
<polyline points="260.6,368.0 270.0,370.5 282.4,378.1 307.4,364.8 354.1,310.2 447.6,333.2" fill="none" stroke="#d98469" stroke-width="2.8" stroke-linejoin="round"/>
<circle cx="260.6" cy="368.0" r="1.9" fill="#d98469"/>
<circle cx="270.0" cy="370.5" r="1.9" fill="#d98469"/>
<circle cx="282.4" cy="378.1" r="1.9" fill="#d98469"/>
<circle cx="307.4" cy="364.8" r="1.9" fill="#d98469"/>
<circle cx="354.1" cy="310.2" r="1.9" fill="#d98469"/>
<circle cx="447.6" cy="333.2" r="1.9" fill="#d98469"/>
<polyline points="260.6,371.9 270.0,373.0 282.4,376.3 307.4,360.5 354.1,327.1 447.6,342.5" fill="none" stroke="#5a86a2" stroke-width="2.8" stroke-linejoin="round"/>
<circle cx="260.6" cy="371.9" r="1.9" fill="#5a86a2"/>
<circle cx="270.0" cy="373.0" r="1.9" fill="#5a86a2"/>
<circle cx="282.4" cy="376.3" r="1.9" fill="#5a86a2"/>
<circle cx="307.4" cy="360.5" r="1.9" fill="#5a86a2"/>
<circle cx="354.1" cy="327.1" r="1.9" fill="#5a86a2"/>
<circle cx="447.6" cy="342.5" r="1.9" fill="#5a86a2"/>
<text x="260.6" y="420.2" font-size="7" text-anchor="middle" font-weight="normal" font-style="normal" fill="#505050" >0</text>
<text x="270.0" y="420.2" font-size="7" text-anchor="middle" font-weight="normal" font-style="normal" fill="#505050" >3</text>
<text x="282.4" y="420.2" font-size="7" text-anchor="middle" font-weight="normal" font-style="normal" fill="#505050" >7</text>
<text x="307.4" y="420.2" font-size="7" text-anchor="middle" font-weight="normal" font-style="normal" fill="#505050" >15</text>
<text x="354.1" y="420.2" font-size="7" text-anchor="middle" font-weight="normal" font-style="normal" fill="#505050" >30</text>
<text x="447.6" y="420.2" font-size="7" text-anchor="middle" font-weight="normal" font-style="normal" fill="#505050" >60</text>
<text x="581.9" y="232.2" font-size="6.0" text-anchor="middle" font-weight="bold" font-style="normal" fill="#222" >IkBa</text>
<text x="477.5" y="406.5" font-size="7.2" text-anchor="end" font-weight="normal" font-style="normal" fill="#505050" >0</text>
<text x="477.5" y="351.0" font-size="7.2" text-anchor="end" font-weight="normal" font-style="normal" fill="#505050" >500</text>
<text x="477.5" y="295.5" font-size="7.2" text-anchor="end" font-weight="normal" font-style="normal" fill="#505050" >1000</text>
<text x="477.5" y="240.0" font-size="7.2" text-anchor="end" font-weight="normal" font-style="normal" fill="#505050" >1500</text>
<polygon points="488.2,403.9 488.2,314.7 497.6,305.2 510.0,305.2 535.0,334.7 581.8,344.7 675.3,333.6 675.3,403.9" fill="#b3b6b6" fill-opacity="0.06"/>
<polygon points="488.2,403.9 488.2,318.0 497.6,316.3 510.0,315.0 535.0,343.1 581.8,350.7 675.3,348.7 675.3,403.9" fill="#8b0f1b" fill-opacity="0.06"/>
<polygon points="488.2,403.9 488.2,244.4 497.6,263.8 510.0,280.2 535.0,319.7 581.8,343.1 675.3,322.0 675.3,403.9" fill="#1b3d66" fill-opacity="0.06"/>
<polygon points="488.2,403.9 488.2,278.1 497.6,273.8 510.0,279.6 535.0,309.7 581.8,341.4 675.3,323.0 675.3,403.9" fill="#0f5a41" fill-opacity="0.06"/>
<polygon points="488.2,403.9 488.2,283.2 497.6,275.1 510.0,287.9 535.0,322.0 581.8,341.4 675.3,324.6 675.3,403.9" fill="#b5532f" fill-opacity="0.08"/>
<polygon points="488.2,403.9 488.2,294.1 497.6,274.5 510.0,297.3 535.0,327.1 581.8,342.3 675.3,326.3 675.3,403.9" fill="#6a8a4f" fill-opacity="0.06"/>
<polygon points="488.2,403.9 488.2,321.2 497.6,313.7 510.0,328.5 535.0,342.3 581.8,344.0 675.3,333.6 675.3,403.9" fill="#d98469" fill-opacity="0.08"/>
<polygon points="488.2,403.9 488.2,326.3 497.6,310.3 510.0,328.6 535.0,345.4 581.8,351.4 675.3,340.7 675.3,403.9" fill="#5a86a2" fill-opacity="0.06"/>
<polyline points="488.2,314.7 497.6,305.2 510.0,305.2 535.0,334.7 581.8,344.7 675.3,333.6" fill="none" stroke="#abaeac" stroke-width="2.8" stroke-linejoin="round"/>
<circle cx="488.2" cy="314.7" r="1.9" fill="#abaeac"/>
<circle cx="497.6" cy="305.2" r="1.9" fill="#abaeac"/>
<circle cx="510.0" cy="305.2" r="1.9" fill="#abaeac"/>
<circle cx="535.0" cy="334.7" r="1.9" fill="#abaeac"/>
<circle cx="581.8" cy="344.7" r="1.9" fill="#abaeac"/>
<circle cx="675.3" cy="333.6" r="1.9" fill="#abaeac"/>
<polyline points="488.2,318.0 497.6,316.3 510.0,315.0 535.0,343.1 581.8,350.7 675.3,348.7" fill="none" stroke="#8a2228" stroke-width="2.8" stroke-linejoin="round"/>
<circle cx="488.2" cy="318.0" r="1.9" fill="#8a2228"/>
<circle cx="497.6" cy="316.3" r="1.9" fill="#8a2228"/>
<circle cx="510.0" cy="315.0" r="1.9" fill="#8a2228"/>
<circle cx="535.0" cy="343.1" r="1.9" fill="#8a2228"/>
<circle cx="581.8" cy="350.7" r="1.9" fill="#8a2228"/>
<circle cx="675.3" cy="348.7" r="1.9" fill="#8a2228"/>
<polyline points="488.2,244.4 497.6,263.8 510.0,280.2 535.0,319.7 581.8,343.1 675.3,322.0" fill="none" stroke="#1b3d66" stroke-width="2.8" stroke-linejoin="round"/>
<circle cx="488.2" cy="244.4" r="1.9" fill="#1b3d66"/>
<circle cx="497.6" cy="263.8" r="1.9" fill="#1b3d66"/>
<circle cx="510.0" cy="280.2" r="1.9" fill="#1b3d66"/>
<circle cx="535.0" cy="319.7" r="1.9" fill="#1b3d66"/>
<circle cx="581.8" cy="343.1" r="1.9" fill="#1b3d66"/>
<circle cx="675.3" cy="322.0" r="1.9" fill="#1b3d66"/>
<polyline points="488.2,278.1 497.6,273.8 510.0,279.6 535.0,309.7 581.8,341.4 675.3,323.0" fill="none" stroke="#0f5a41" stroke-width="2.8" stroke-linejoin="round"/>
<circle cx="488.2" cy="278.1" r="1.9" fill="#0f5a41"/>
<circle cx="497.6" cy="273.8" r="1.9" fill="#0f5a41"/>
<circle cx="510.0" cy="279.6" r="1.9" fill="#0f5a41"/>
<circle cx="535.0" cy="309.7" r="1.9" fill="#0f5a41"/>
<circle cx="581.8" cy="341.4" r="1.9" fill="#0f5a41"/>
<circle cx="675.3" cy="323.0" r="1.9" fill="#0f5a41"/>
<polyline points="488.2,283.2 497.6,275.1 510.0,287.9 535.0,322.0 581.8,341.4 675.3,324.6" fill="none" stroke="#b5532f" stroke-width="2.8" stroke-linejoin="round"/>
<circle cx="488.2" cy="283.2" r="1.9" fill="#b5532f"/>
<circle cx="497.6" cy="275.1" r="1.9" fill="#b5532f"/>
<circle cx="510.0" cy="287.9" r="1.9" fill="#b5532f"/>
<circle cx="535.0" cy="322.0" r="1.9" fill="#b5532f"/>
<circle cx="581.8" cy="341.4" r="1.9" fill="#b5532f"/>
<circle cx="675.3" cy="324.6" r="1.9" fill="#b5532f"/>
<polyline points="488.2,294.1 497.6,274.5 510.0,297.3 535.0,327.1 581.8,342.3 675.3,326.3" fill="none" stroke="#6a8a4f" stroke-width="2.8" stroke-linejoin="round"/>
<circle cx="488.2" cy="294.1" r="1.9" fill="#6a8a4f"/>
<circle cx="497.6" cy="274.5" r="1.9" fill="#6a8a4f"/>
<circle cx="510.0" cy="297.3" r="1.9" fill="#6a8a4f"/>
<circle cx="535.0" cy="327.1" r="1.9" fill="#6a8a4f"/>
<circle cx="581.8" cy="342.3" r="1.9" fill="#6a8a4f"/>
<circle cx="675.3" cy="326.3" r="1.9" fill="#6a8a4f"/>
<polyline points="488.2,321.2 497.6,313.7 510.0,328.5 535.0,342.3 581.8,344.0 675.3,333.6" fill="none" stroke="#d98469" stroke-width="2.8" stroke-linejoin="round"/>
<circle cx="488.2" cy="321.2" r="1.9" fill="#d98469"/>
<circle cx="497.6" cy="313.7" r="1.9" fill="#d98469"/>
<circle cx="510.0" cy="328.5" r="1.9" fill="#d98469"/>
<circle cx="535.0" cy="342.3" r="1.9" fill="#d98469"/>
<circle cx="581.8" cy="344.0" r="1.9" fill="#d98469"/>
<circle cx="675.3" cy="333.6" r="1.9" fill="#d98469"/>
<polyline points="488.2,326.3 497.6,310.3 510.0,328.6 535.0,345.4 581.8,351.4 675.3,340.7" fill="none" stroke="#5a86a2" stroke-width="2.8" stroke-linejoin="round"/>
<circle cx="488.2" cy="326.3" r="1.9" fill="#5a86a2"/>
<circle cx="497.6" cy="310.3" r="1.9" fill="#5a86a2"/>
<circle cx="510.0" cy="328.6" r="1.9" fill="#5a86a2"/>
<circle cx="535.0" cy="345.4" r="1.9" fill="#5a86a2"/>
<circle cx="581.8" cy="351.4" r="1.9" fill="#5a86a2"/>
<circle cx="675.3" cy="340.7" r="1.9" fill="#5a86a2"/>
<text x="488.2" y="420.2" font-size="7" text-anchor="middle" font-weight="normal" font-style="normal" fill="#505050" >0</text>
<text x="497.6" y="420.2" font-size="7" text-anchor="middle" font-weight="normal" font-style="normal" fill="#505050" >3</text>
<text x="510.0" y="420.2" font-size="7" text-anchor="middle" font-weight="normal" font-style="normal" fill="#505050" >7</text>
<text x="535.0" y="420.2" font-size="7" text-anchor="middle" font-weight="normal" font-style="normal" fill="#505050" >15</text>
<text x="581.8" y="420.2" font-size="7" text-anchor="middle" font-weight="normal" font-style="normal" fill="#505050" >30</text>
<text x="675.3" y="420.2" font-size="7" text-anchor="middle" font-weight="normal" font-style="normal" fill="#505050" >60</text>
<text x="2.7" y="324.3" font-size="6.6" text-anchor="middle" font-weight="normal" font-style="normal" fill="#1a1a1a" transform="rotate(-90 2.7 324.3)" dy="2.2">MFI Level</text>
<text x="356.3" y="427.8" font-size="6.7" text-anchor="middle" font-weight="normal" font-style="normal" fill="#222" >Stimulation Time (mins)</text>
<text x="253.9" y="454.2" font-size="6.6" text-anchor="start" font-weight="normal" font-style="normal" fill="#222" >Treatment</text>
<rect x="286.5" y="439.1" width="11" height="11" fill="#b3b6b6"/>
<rect x="288.1" y="441.1" width="7.8" height="2.6" fill="#fff" fill-opacity="0.85"/>
<rect x="288.1" y="445.2" width="7.8" height="3" fill="#fff" fill-opacity="0.85"/>
<text x="300.5" y="446.7" font-size="5.4" text-anchor="start" font-weight="normal" font-style="normal" fill="#222" >No Treatment</text>
<rect x="286.5" y="452.6" width="11" height="11" fill="#8b0f1b"/>
<rect x="288.1" y="454.6" width="7.8" height="2.6" fill="#fff" fill-opacity="0.85"/>
<rect x="288.1" y="458.7" width="7.8" height="3" fill="#fff" fill-opacity="0.85"/>
<text x="300.5" y="460.2" font-size="5.4" text-anchor="start" font-weight="normal" font-style="normal" fill="#222" >Inhibitors</text>
<rect x="335.8" y="439.1" width="11" height="11" fill="#1b3d66"/>
<rect x="337.4" y="441.1" width="7.8" height="2.6" fill="#fff" fill-opacity="0.85"/>
<rect x="337.4" y="445.2" width="7.8" height="3" fill="#fff" fill-opacity="0.85"/>
<text x="349.8" y="446.7" font-size="5.4" text-anchor="start" font-weight="normal" font-style="normal" fill="#222" >Trp-UDCA</text>
<rect x="335.8" y="452.6" width="11" height="11" fill="#0f5a41"/>
<rect x="337.4" y="454.6" width="7.8" height="2.6" fill="#fff" fill-opacity="0.85"/>
<rect x="337.4" y="458.7" width="7.8" height="3" fill="#fff" fill-opacity="0.85"/>
<text x="349.8" y="460.2" font-size="5.4" text-anchor="start" font-weight="normal" font-style="normal" fill="#222" >Asp-UDCA</text>
<rect x="378.4" y="439.1" width="11" height="11" fill="#b5532f"/>
<rect x="380.0" y="441.1" width="7.8" height="2.6" fill="#fff" fill-opacity="0.85"/>
<rect x="380.0" y="445.2" width="7.8" height="3" fill="#fff" fill-opacity="0.85"/>
<text x="392.4" y="446.7" font-size="5.4" text-anchor="start" font-weight="normal" font-style="normal" fill="#222" >Glu-UDCA</text>
<rect x="378.4" y="452.6" width="11" height="11" fill="#6a8a4f"/>
<rect x="380.0" y="454.6" width="7.8" height="2.6" fill="#fff" fill-opacity="0.85"/>
<rect x="380.0" y="458.7" width="7.8" height="3" fill="#fff" fill-opacity="0.85"/>
<text x="392.4" y="460.2" font-size="5.4" text-anchor="start" font-weight="normal" font-style="normal" fill="#222" >Asn-UDCA</text>
<rect x="421.1" y="439.1" width="11" height="11" fill="#d98469"/>
<rect x="422.7" y="441.1" width="7.8" height="2.6" fill="#fff" fill-opacity="0.85"/>
<rect x="422.7" y="445.2" width="7.8" height="3" fill="#fff" fill-opacity="0.85"/>
<text x="435.1" y="446.7" font-size="5.4" text-anchor="start" font-weight="normal" font-style="normal" fill="#222" >Cit-UDCA</text>
<rect x="421.1" y="452.6" width="11" height="11" fill="#5a86a2"/>
<rect x="422.7" y="454.6" width="7.8" height="2.6" fill="#fff" fill-opacity="0.85"/>
<rect x="422.7" y="458.7" width="7.8" height="3" fill="#fff" fill-opacity="0.85"/>
<text x="435.1" y="460.2" font-size="5.4" text-anchor="start" font-weight="normal" font-style="normal" fill="#222" >UDCA</text>
<text x="131.2" y="481.6" font-size="7.1" text-anchor="middle" font-weight="bold" font-style="normal" fill="#222" >pp38</text>
<text x="28.5" y="637.6" font-size="7.2" text-anchor="end" font-weight="normal" font-style="normal" fill="#505050" >0</text>
<text x="28.5" y="590.0" font-size="7.2" text-anchor="end" font-weight="normal" font-style="normal" fill="#505050" >20000</text>
<text x="28.5" y="542.4" font-size="7.2" text-anchor="end" font-weight="normal" font-style="normal" fill="#505050" >40000</text>
<rect x="35.0" y="536.8" width="22.0" height="98.2" fill="#b3b6b6"/>
<rect x="59.4" y="582.4" width="22.0" height="52.6" fill="#8b0f1b"/>
<rect x="83.9" y="568.0" width="22.0" height="67.0" fill="#5a86a2"/>
<rect x="108.3" y="523.5" width="22.0" height="111.5" fill="#1b3d66"/>
<rect x="132.8" y="516.8" width="22.0" height="118.2" fill="#0f5a41"/>
<rect x="157.2" y="524.9" width="22.0" height="110.1" fill="#b5532f"/>
<rect x="181.6" y="540.3" width="22.0" height="94.7" fill="#6a8a4f"/>
<rect x="206.1" y="558.2" width="22.0" height="76.8" fill="#d98469"/>
<circle cx="46.0" cy="519.1" r="2.55" fill="#000"/>
<circle cx="46.0" cy="529.6" r="2.55" fill="#000"/>
<circle cx="46.0" cy="532.4" r="2.55" fill="#000"/>
<circle cx="46.0" cy="535.2" r="2.55" fill="#000"/>
<circle cx="46.0" cy="546.1" r="2.55" fill="#000"/>
<circle cx="46.0" cy="558.7" r="2.55" fill="#000"/>
<text x="49.0" y="649.5" font-size="7.0" text-anchor="end" font-weight="normal" font-style="normal" fill="#505050" transform="rotate(-45 49.0 649.5)">No Treatment</text>
<circle cx="70.4" cy="576.9" r="2.55" fill="#000"/>
<circle cx="70.4" cy="579.4" r="2.55" fill="#000"/>
<circle cx="70.4" cy="582.2" r="2.55" fill="#000"/>
<circle cx="70.4" cy="595.2" r="2.55" fill="#000"/>
<text x="73.4" y="649.5" font-size="7.0" text-anchor="end" font-weight="normal" font-style="normal" fill="#505050" transform="rotate(-45 73.4 649.5)">Inhibitors</text>
<circle cx="94.9" cy="561.9" r="2.55" fill="#000"/>
<circle cx="94.9" cy="564.0" r="2.55" fill="#000"/>
<circle cx="94.9" cy="566.4" r="2.55" fill="#000"/>
<circle cx="94.9" cy="575.2" r="2.55" fill="#000"/>
<circle cx="94.9" cy="577.6" r="2.55" fill="#000"/>
<path d="M90.28,494.50L90.28,499.10M88.29,495.65L92.27,497.95M92.27,495.65L88.29,497.95" stroke="#c65a72" stroke-width="0.95" fill="none"/>
<path d="M94.88,494.50L94.88,499.10M92.89,495.65L96.87,497.95M96.87,495.65L92.89,497.95" stroke="#c65a72" stroke-width="0.95" fill="none"/>
<path d="M99.48,494.50L99.48,499.10M97.49,495.65L101.47,497.95M101.47,495.65L97.49,497.95" stroke="#c65a72" stroke-width="0.95" fill="none"/>
<text x="97.9" y="649.5" font-size="7.0" text-anchor="end" font-weight="normal" font-style="normal" fill="#505050" transform="rotate(-45 97.9 649.5)">UDCA</text>
<circle cx="119.3" cy="502.6" r="2.55" fill="#000"/>
<circle cx="119.3" cy="517.3" r="2.55" fill="#000"/>
<circle cx="119.3" cy="520.8" r="2.55" fill="#000"/>
<circle cx="119.3" cy="529.6" r="2.55" fill="#000"/>
<circle cx="119.3" cy="531.7" r="2.55" fill="#000"/>
<circle cx="119.3" cy="539.4" r="2.55" fill="#000"/>
<text x="122.3" y="649.5" font-size="7.0" text-anchor="end" font-weight="normal" font-style="normal" fill="#505050" transform="rotate(-45 122.3 649.5)">Trp-UDCA</text>
<circle cx="143.8" cy="506.8" r="2.55" fill="#000"/>
<circle cx="143.8" cy="509.3" r="2.55" fill="#000"/>
<circle cx="143.8" cy="515.6" r="2.55" fill="#000"/>
<circle cx="143.8" cy="522.6" r="2.55" fill="#000"/>
<circle cx="143.8" cy="525.0" r="2.55" fill="#000"/>
<circle cx="143.8" cy="529.6" r="2.55" fill="#000"/>
<path d="M141.46,494.50L141.46,499.10M139.47,495.65L143.45,497.95M143.45,495.65L139.47,497.95" stroke="#c65a72" stroke-width="0.95" fill="none"/>
<path d="M146.06,494.50L146.06,499.10M144.07,495.65L148.05,497.95M148.05,495.65L144.07,497.95" stroke="#c65a72" stroke-width="0.95" fill="none"/>
<text x="146.8" y="649.5" font-size="7.0" text-anchor="end" font-weight="normal" font-style="normal" fill="#505050" transform="rotate(-45 146.8 649.5)">Asp-UDCA</text>
<circle cx="168.2" cy="505.0" r="2.55" fill="#000"/>
<circle cx="168.2" cy="520.8" r="2.55" fill="#000"/>
<circle cx="168.2" cy="523.3" r="2.55" fill="#000"/>
<circle cx="168.2" cy="529.6" r="2.55" fill="#000"/>
<circle cx="168.2" cy="541.9" r="2.55" fill="#000"/>
<text x="171.2" y="649.5" font-size="7.0" text-anchor="end" font-weight="normal" font-style="normal" fill="#505050" transform="rotate(-45 171.2 649.5)">Glu-UDCA</text>
<circle cx="192.6" cy="526.1" r="2.55" fill="#000"/>
<circle cx="192.6" cy="535.6" r="2.55" fill="#000"/>
<circle cx="192.6" cy="537.7" r="2.55" fill="#000"/>
<circle cx="192.6" cy="544.3" r="2.55" fill="#000"/>
<circle cx="192.6" cy="569.2" r="2.55" fill="#000"/>
<path d="M188.04,494.50L188.04,499.10M186.05,495.65L190.03,497.95M190.03,495.65L186.05,497.95" stroke="#c65a72" stroke-width="0.95" fill="none"/>
<path d="M192.64,494.50L192.64,499.10M190.65,495.65L194.63,497.95M194.63,495.65L190.65,497.95" stroke="#c65a72" stroke-width="0.95" fill="none"/>
<path d="M197.24,494.50L197.24,499.10M195.25,495.65L199.23,497.95M199.23,495.65L195.25,497.95" stroke="#c65a72" stroke-width="0.95" fill="none"/>
<text x="195.6" y="649.5" font-size="7.0" text-anchor="end" font-weight="normal" font-style="normal" fill="#505050" transform="rotate(-45 195.6 649.5)">Asn-UDCA</text>
<circle cx="217.1" cy="541.2" r="2.55" fill="#000"/>
<circle cx="217.1" cy="544.3" r="2.55" fill="#000"/>
<circle cx="217.1" cy="547.8" r="2.55" fill="#000"/>
<circle cx="217.1" cy="565.4" r="2.55" fill="#000"/>
<circle cx="217.1" cy="571.7" r="2.55" fill="#000"/>
<circle cx="217.1" cy="576.9" r="2.55" fill="#000"/>
<path d="M214.78,494.50L214.78,499.10M212.79,495.65L216.77,497.95M216.77,495.65L212.79,497.95" stroke="#c65a72" stroke-width="0.95" fill="none"/>
<path d="M219.38,494.50L219.38,499.10M217.39,495.65L221.37,497.95M221.37,495.65L217.39,497.95" stroke="#c65a72" stroke-width="0.95" fill="none"/>
<text x="220.1" y="649.5" font-size="7.0" text-anchor="end" font-weight="normal" font-style="normal" fill="#505050" transform="rotate(-45 220.1 649.5)">Cit-UDCA</text>
<text x="358.2" y="481.6" font-size="7.1" text-anchor="middle" font-weight="bold" font-style="normal" fill="#222" >pERK</text>
<text x="255.5" y="635.9" font-size="7.2" text-anchor="end" font-weight="normal" font-style="normal" fill="#505050" >0</text>
<text x="255.5" y="599.9" font-size="7.2" text-anchor="end" font-weight="normal" font-style="normal" fill="#505050" >5000</text>
<text x="255.5" y="563.9" font-size="7.2" text-anchor="end" font-weight="normal" font-style="normal" fill="#505050" >10000</text>
<text x="255.5" y="527.9" font-size="7.2" text-anchor="end" font-weight="normal" font-style="normal" fill="#505050" >15000</text>
<rect x="261.7" y="542.9" width="21.8" height="90.4" fill="#b3b6b6"/>
<rect x="286.1" y="603.3" width="21.8" height="30.0" fill="#8b0f1b"/>
<rect x="310.5" y="563.5" width="21.8" height="69.8" fill="#5a86a2"/>
<rect x="334.9" y="518.5" width="21.8" height="114.8" fill="#1b3d66"/>
<rect x="359.3" y="514.4" width="21.8" height="118.9" fill="#0f5a41"/>
<rect x="383.7" y="529.8" width="21.8" height="103.5" fill="#b5532f"/>
<rect x="408.1" y="540.8" width="21.8" height="92.5" fill="#6a8a4f"/>
<rect x="432.5" y="554.2" width="21.8" height="79.1" fill="#d98469"/>
<circle cx="272.6" cy="505.4" r="2.55" fill="#000"/>
<circle cx="272.6" cy="518.7" r="2.55" fill="#000"/>
<circle cx="272.6" cy="526.6" r="2.55" fill="#000"/>
<circle cx="272.6" cy="529.0" r="2.55" fill="#000"/>
<circle cx="272.6" cy="580.5" r="2.55" fill="#000"/>
<circle cx="272.6" cy="597.7" r="2.55" fill="#000"/>
<text x="275.6" y="647.8" font-size="7.0" text-anchor="end" font-weight="normal" font-style="normal" fill="#505050" transform="rotate(-45 275.6 647.8)">No Treatment</text>
<circle cx="297.0" cy="586.7" r="2.55" fill="#000"/>
<circle cx="297.0" cy="589.5" r="2.55" fill="#000"/>
<circle cx="297.0" cy="594.3" r="2.55" fill="#000"/>
<circle cx="297.0" cy="624.5" r="2.55" fill="#000"/>
<circle cx="297.0" cy="635.5" r="2.55" fill="#000"/>
<text x="300.0" y="647.8" font-size="7.0" text-anchor="end" font-weight="normal" font-style="normal" fill="#505050" transform="rotate(-45 300.0 647.8)">Inhibitors</text>
<circle cx="321.4" cy="548.3" r="2.55" fill="#000"/>
<circle cx="321.4" cy="550.3" r="2.55" fill="#000"/>
<circle cx="321.4" cy="564.4" r="2.55" fill="#000"/>
<circle cx="321.4" cy="567.8" r="2.55" fill="#000"/>
<circle cx="321.4" cy="574.7" r="2.55" fill="#000"/>
<text x="324.4" y="647.8" font-size="7.0" text-anchor="end" font-weight="normal" font-style="normal" fill="#505050" transform="rotate(-45 324.4 647.8)">UDCA</text>
<circle cx="345.8" cy="512.9" r="2.55" fill="#000"/>
<circle cx="345.8" cy="516.0" r="2.55" fill="#000"/>
<circle cx="345.8" cy="519.1" r="2.55" fill="#000"/>
<circle cx="345.8" cy="530.4" r="2.55" fill="#000"/>
<text x="348.8" y="647.8" font-size="7.0" text-anchor="end" font-weight="normal" font-style="normal" fill="#505050" transform="rotate(-45 348.8 647.8)">Trp-UDCA</text>
<circle cx="370.2" cy="502.6" r="2.55" fill="#000"/>
<circle cx="370.2" cy="507.0" r="2.55" fill="#000"/>
<circle cx="370.2" cy="519.1" r="2.55" fill="#000"/>
<circle cx="370.2" cy="522.2" r="2.55" fill="#000"/>
<circle cx="370.2" cy="528.4" r="2.55" fill="#000"/>
<text x="373.2" y="647.8" font-size="7.0" text-anchor="end" font-weight="normal" font-style="normal" fill="#505050" transform="rotate(-45 373.2 647.8)">Asp-UDCA</text>
<circle cx="394.6" cy="512.9" r="2.55" fill="#000"/>
<circle cx="394.6" cy="520.8" r="2.55" fill="#000"/>
<circle cx="394.6" cy="538.7" r="2.55" fill="#000"/>
<circle cx="394.6" cy="543.1" r="2.55" fill="#000"/>
<circle cx="394.6" cy="545.5" r="2.55" fill="#000"/>
<text x="397.6" y="647.8" font-size="7.0" text-anchor="end" font-weight="normal" font-style="normal" fill="#505050" transform="rotate(-45 397.6 647.8)">Glu-UDCA</text>
<circle cx="419.0" cy="509.8" r="2.55" fill="#000"/>
<circle cx="419.0" cy="512.9" r="2.55" fill="#000"/>
<circle cx="419.0" cy="519.8" r="2.55" fill="#000"/>
<circle cx="419.0" cy="539.3" r="2.55" fill="#000"/>
<circle cx="419.0" cy="567.2" r="2.55" fill="#000"/>
<circle cx="419.0" cy="594.3" r="2.55" fill="#000"/>
<path d="M414.40,494.50L414.40,499.10M412.41,495.65L416.39,497.95M416.39,495.65L412.41,497.95" stroke="#c65a72" stroke-width="0.95" fill="none"/>
<path d="M419.00,494.50L419.00,499.10M417.01,495.65L420.99,497.95M420.99,495.65L417.01,497.95" stroke="#c65a72" stroke-width="0.95" fill="none"/>
<path d="M423.60,494.50L423.60,499.10M421.61,495.65L425.59,497.95M425.59,495.65L421.61,497.95" stroke="#c65a72" stroke-width="0.95" fill="none"/>
<text x="422.0" y="647.8" font-size="7.0" text-anchor="end" font-weight="normal" font-style="normal" fill="#505050" transform="rotate(-45 422.0 647.8)">Asn-UDCA</text>
<circle cx="443.4" cy="527.0" r="2.55" fill="#000"/>
<circle cx="443.4" cy="536.3" r="2.55" fill="#000"/>
<circle cx="443.4" cy="545.5" r="2.55" fill="#000"/>
<circle cx="443.4" cy="559.3" r="2.55" fill="#000"/>
<circle cx="443.4" cy="563.4" r="2.55" fill="#000"/>
<circle cx="443.4" cy="593.2" r="2.55" fill="#000"/>
<text x="446.4" y="647.8" font-size="7.0" text-anchor="end" font-weight="normal" font-style="normal" fill="#505050" transform="rotate(-45 446.4 647.8)">Cit-UDCA</text>
<text x="584.6" y="481.6" font-size="7.1" text-anchor="middle" font-weight="bold" font-style="normal" fill="#222" >IkBa</text>
<text x="482.0" y="637.7" font-size="7.2" text-anchor="end" font-weight="normal" font-style="normal" fill="#505050" >0</text>
<text x="482.0" y="611.3" font-size="7.2" text-anchor="end" font-weight="normal" font-style="normal" fill="#505050" >10000</text>
<text x="482.0" y="584.9" font-size="7.2" text-anchor="end" font-weight="normal" font-style="normal" fill="#505050" >20000</text>
<text x="482.0" y="558.5" font-size="7.2" text-anchor="end" font-weight="normal" font-style="normal" fill="#505050" >30000</text>
<text x="482.0" y="532.1" font-size="7.2" text-anchor="end" font-weight="normal" font-style="normal" fill="#505050" >40000</text>
<text x="482.0" y="505.7" font-size="7.2" text-anchor="end" font-weight="normal" font-style="normal" fill="#505050" >50000</text>
<rect x="488.1" y="529.0" width="21.9" height="106.1" fill="#b3b6b6"/>
<rect x="512.5" y="546.9" width="21.9" height="88.2" fill="#8b0f1b"/>
<rect x="536.9" y="546.9" width="21.9" height="88.2" fill="#5a86a2"/>
<rect x="561.3" y="515.3" width="21.9" height="119.8" fill="#1b3d66"/>
<rect x="585.7" y="513.9" width="21.9" height="121.2" fill="#0f5a41"/>
<rect x="610.1" y="519.1" width="21.9" height="116.0" fill="#b5532f"/>
<rect x="634.5" y="522.9" width="21.9" height="112.2" fill="#6a8a4f"/>
<rect x="658.9" y="539.3" width="21.9" height="95.8" fill="#d98469"/>
<circle cx="499.1" cy="517.0" r="2.55" fill="#000"/>
<circle cx="499.1" cy="519.8" r="2.55" fill="#000"/>
<circle cx="499.1" cy="524.2" r="2.55" fill="#000"/>
<circle cx="499.1" cy="526.6" r="2.55" fill="#000"/>
<circle cx="499.1" cy="530.8" r="2.55" fill="#000"/>
<circle cx="499.1" cy="553.4" r="2.55" fill="#000"/>
<text x="502.1" y="649.6" font-size="7.0" text-anchor="end" font-weight="normal" font-style="normal" fill="#505050" transform="rotate(-45 502.1 649.6)">No Treatment</text>
<circle cx="523.5" cy="540.4" r="2.55" fill="#000"/>
<circle cx="523.5" cy="543.1" r="2.55" fill="#000"/>
<circle cx="523.5" cy="545.5" r="2.55" fill="#000"/>
<circle cx="523.5" cy="567.2" r="2.55" fill="#000"/>
<text x="526.5" y="649.6" font-size="7.0" text-anchor="end" font-weight="normal" font-style="normal" fill="#505050" transform="rotate(-45 526.5 649.6)">Inhibitors</text>
<circle cx="547.9" cy="524.2" r="2.55" fill="#000"/>
<circle cx="547.9" cy="538.7" r="2.55" fill="#000"/>
<circle cx="547.9" cy="544.8" r="2.55" fill="#000"/>
<circle cx="547.9" cy="553.1" r="2.55" fill="#000"/>
<circle cx="547.9" cy="559.3" r="2.55" fill="#000"/>
<circle cx="547.9" cy="561.7" r="2.55" fill="#000"/>
<path d="M547.85,494.50L547.85,499.10M545.86,495.65L549.84,497.95M549.84,495.65L545.86,497.95" stroke="#c65a72" stroke-width="0.95" fill="none"/>
<text x="550.9" y="649.6" font-size="7.0" text-anchor="end" font-weight="normal" font-style="normal" fill="#505050" transform="rotate(-45 550.9 649.6)">UDCA</text>
<circle cx="572.2" cy="507.8" r="2.55" fill="#000"/>
<circle cx="572.2" cy="510.5" r="2.55" fill="#000"/>
<circle cx="572.2" cy="512.9" r="2.55" fill="#000"/>
<circle cx="572.2" cy="524.9" r="2.55" fill="#000"/>
<circle cx="572.2" cy="527.3" r="2.55" fill="#000"/>
<text x="575.2" y="649.6" font-size="7.0" text-anchor="end" font-weight="normal" font-style="normal" fill="#505050" transform="rotate(-45 575.2 649.6)">Trp-UDCA</text>
<circle cx="596.7" cy="502.6" r="2.55" fill="#000"/>
<circle cx="596.7" cy="506.0" r="2.55" fill="#000"/>
<circle cx="596.7" cy="512.9" r="2.55" fill="#000"/>
<circle cx="596.7" cy="515.3" r="2.55" fill="#000"/>
<circle cx="596.7" cy="520.8" r="2.55" fill="#000"/>
<circle cx="596.7" cy="524.9" r="2.55" fill="#000"/>
<text x="599.7" y="649.6" font-size="7.0" text-anchor="end" font-weight="normal" font-style="normal" fill="#505050" transform="rotate(-45 599.7 649.6)">Asp-UDCA</text>
<circle cx="621.1" cy="502.6" r="2.55" fill="#000"/>
<circle cx="621.1" cy="512.9" r="2.55" fill="#000"/>
<circle cx="621.1" cy="519.1" r="2.55" fill="#000"/>
<circle cx="621.1" cy="523.2" r="2.55" fill="#000"/>
<circle cx="621.1" cy="529.0" r="2.55" fill="#000"/>
<text x="624.1" y="649.6" font-size="7.0" text-anchor="end" font-weight="normal" font-style="normal" fill="#505050" transform="rotate(-45 624.1 649.6)">Glu-UDCA</text>
<circle cx="645.5" cy="508.8" r="2.55" fill="#000"/>
<circle cx="645.5" cy="514.6" r="2.55" fill="#000"/>
<circle cx="645.5" cy="525.6" r="2.55" fill="#000"/>
<circle cx="645.5" cy="546.2" r="2.55" fill="#000"/>
<path d="M640.85,494.50L640.85,499.10M638.86,495.65L642.84,497.95M642.84,495.65L638.86,497.95" stroke="#c65a72" stroke-width="0.95" fill="none"/>
<path d="M645.45,494.50L645.45,499.10M643.46,495.65L647.44,497.95M647.44,495.65L643.46,497.95" stroke="#c65a72" stroke-width="0.95" fill="none"/>
<path d="M650.05,494.50L650.05,499.10M648.06,495.65L652.04,497.95M652.04,495.65L648.06,497.95" stroke="#c65a72" stroke-width="0.95" fill="none"/>
<text x="648.5" y="649.6" font-size="7.0" text-anchor="end" font-weight="normal" font-style="normal" fill="#505050" transform="rotate(-45 648.5 649.6)">Asn-UDCA</text>
<circle cx="669.9" cy="521.5" r="2.55" fill="#000"/>
<circle cx="669.9" cy="531.8" r="2.55" fill="#000"/>
<circle cx="669.9" cy="549.6" r="2.55" fill="#000"/>
<circle cx="669.9" cy="555.8" r="2.55" fill="#000"/>
<text x="672.9" y="649.6" font-size="7.0" text-anchor="end" font-weight="normal" font-style="normal" fill="#505050" transform="rotate(-45 672.9 649.6)">Cit-UDCA</text>
<text x="2.8" y="569.0" font-size="6.8" text-anchor="middle" font-weight="normal" font-style="normal" fill="#222" transform="rotate(-90 2.8 569)" dy="2">AUC</text>
<text x="358.0" y="687.6" font-size="6.6" text-anchor="middle" font-weight="normal" font-style="normal" fill="#222" >Treatment</text>
<text x="254.8" y="712.8" font-size="6.6" text-anchor="start" font-weight="normal" font-style="normal" fill="#222" >Treatment</text>
<rect x="288.5" y="698.9" width="9.7" height="9.7" fill="#b3b6b6"/>
<circle cx="293.4" cy="703.8" r="2.5" fill="#000"/>
<text x="301.5" y="705.8" font-size="5.4" text-anchor="start" font-weight="normal" font-style="normal" fill="#222" >No Treatment</text>
<rect x="288.5" y="712.4" width="9.7" height="9.7" fill="#8b0f1b"/>
<circle cx="293.4" cy="717.2" r="2.5" fill="#000"/>
<text x="301.5" y="719.3" font-size="5.4" text-anchor="start" font-weight="normal" font-style="normal" fill="#222" >Inhibitors</text>
<rect x="337.3" y="698.9" width="9.7" height="9.7" fill="#5a86a2"/>
<circle cx="342.2" cy="703.8" r="2.5" fill="#000"/>
<text x="350.3" y="705.8" font-size="5.4" text-anchor="start" font-weight="normal" font-style="normal" fill="#222" >UDCA</text>
<rect x="337.3" y="712.4" width="9.7" height="9.7" fill="#1b3d66"/>
<circle cx="342.2" cy="717.2" r="2.5" fill="#000"/>
<text x="350.3" y="719.3" font-size="5.4" text-anchor="start" font-weight="normal" font-style="normal" fill="#222" >Trp-UDCA</text>
<rect x="379.4" y="698.9" width="9.7" height="9.7" fill="#0f5a41"/>
<circle cx="384.2" cy="703.8" r="2.5" fill="#000"/>
<text x="392.4" y="705.8" font-size="5.4" text-anchor="start" font-weight="normal" font-style="normal" fill="#222" >Asp-UDCA</text>
<rect x="379.4" y="712.4" width="9.7" height="9.7" fill="#b5532f"/>
<circle cx="384.2" cy="717.2" r="2.5" fill="#000"/>
<text x="392.4" y="719.3" font-size="5.4" text-anchor="start" font-weight="normal" font-style="normal" fill="#222" >Glu-UDCA</text>
<rect x="421.8" y="698.9" width="9.7" height="9.7" fill="#6a8a4f"/>
<circle cx="426.7" cy="703.8" r="2.5" fill="#000"/>
<text x="434.8" y="705.8" font-size="5.4" text-anchor="start" font-weight="normal" font-style="normal" fill="#222" >Asn-UDCA</text>
<rect x="421.8" y="712.4" width="9.7" height="9.7" fill="#d98469"/>
<circle cx="426.7" cy="717.2" r="2.5" fill="#000"/>
<text x="434.8" y="719.3" font-size="5.4" text-anchor="start" font-weight="normal" font-style="normal" fill="#222" >Cit-UDCA</text>
<text x="131.7" y="772.2" font-size="6.9" text-anchor="middle" font-weight="bold" font-style="normal" fill="#222" >pp38</text>
<text x="24.5" y="959.3" font-size="7.2" text-anchor="end" font-weight="normal" font-style="normal" fill="#505050" >0</text>
<text x="24.5" y="915.9" font-size="7.2" text-anchor="end" font-weight="normal" font-style="normal" fill="#505050" >200</text>
<text x="24.5" y="872.5" font-size="7.2" text-anchor="end" font-weight="normal" font-style="normal" fill="#505050" >400</text>
<text x="24.5" y="829.1" font-size="7.2" text-anchor="end" font-weight="normal" font-style="normal" fill="#505050" >600</text>
<text x="24.5" y="785.7" font-size="7.2" text-anchor="end" font-weight="normal" font-style="normal" fill="#505050" >800</text>
<defs><clipPath id="cb1"><polygon points="36.4,956.7 36.4,917.9 45.9,918.5 58.6,905.3 84.0,881.8 131.6,838.0 226.8,828.7 226.8,956.7"/></clipPath><clipPath id="cr1"><polygon points="36.4,956.7 36.4,912.2 45.9,915.0 58.6,909.4 84.0,886.6 131.6,859.7 226.8,860.1 226.8,956.7"/></clipPath></defs>
<polygon points="36.4,956.7 36.4,890.5 45.9,892.3 58.6,874.5 84.0,838.7 131.6,784.4 226.8,803.7 226.8,956.7" fill="#d7d8d8"/>
<polyline points="36.4,890.5 45.9,892.3 58.6,874.5 84.0,838.7 131.6,784.4 226.8,803.7" fill="none" stroke="#b3b6b6" stroke-width="2.7" stroke-linejoin="round"/>
<polygon points="36.4,956.7 36.4,917.9 45.9,918.5 58.6,905.3 84.0,881.8 131.6,838.0 226.8,828.7 226.8,956.7" fill="#9caabb"/>
<polyline points="36.4,917.9 45.9,918.5 58.6,905.3 84.0,881.8 131.6,838.0 226.8,828.7" fill="none" stroke="#5b80a8" stroke-width="2.1" stroke-linejoin="round"/>
<polygon points="36.4,956.7 36.4,912.2 45.9,915.0 58.6,909.4 84.0,886.6 131.6,859.7 226.8,860.1 226.8,956.7" fill="#b9918c"/>
<polygon points="36.4,956.7 36.4,912.2 45.9,915.0 58.6,909.4 84.0,886.6 131.6,859.7 226.8,860.1 226.8,956.7" fill="#a38585" clip-path="url(#cb1)"/>
<polyline points="36.4,917.9 45.9,918.5 58.6,905.3 84.0,881.8 131.6,838.0 226.8,828.7" fill="none" stroke="#8c7d8a" stroke-width="2.1" stroke-linejoin="round" clip-path="url(#cr1)"/>
<polyline points="36.4,912.2 45.9,915.0 58.6,909.4 84.0,886.6 131.6,859.7 226.8,860.1" fill="none" stroke="#b8675c" stroke-width="2.1" stroke-linejoin="round"/>
<circle cx="36.4" cy="917.9" r="1.7" fill="#1f6ca5"/>
<circle cx="45.9" cy="918.5" r="1.7" fill="#1f6ca5"/>
<circle cx="58.6" cy="905.3" r="1.7" fill="#1f6ca5"/>
<circle cx="84.0" cy="881.8" r="1.7" fill="#1f6ca5"/>
<circle cx="131.6" cy="838.0" r="1.7" fill="#1f6ca5"/>
<circle cx="226.8" cy="828.7" r="1.7" fill="#1f6ca5"/>
<circle cx="36.4" cy="912.2" r="1.7" fill="#9b1426"/>
<circle cx="45.9" cy="915.0" r="1.7" fill="#9b1426"/>
<circle cx="58.6" cy="909.4" r="1.7" fill="#9b1426"/>
<circle cx="84.0" cy="886.6" r="1.7" fill="#9b1426"/>
<circle cx="131.6" cy="859.7" r="1.7" fill="#9b1426"/>
<circle cx="226.8" cy="860.1" r="1.7" fill="#9b1426"/>
<text x="34.3" y="973.3" font-size="7" text-anchor="middle" font-weight="normal" font-style="normal" fill="#505050" >0</text>
<text x="44.1" y="973.3" font-size="7" text-anchor="middle" font-weight="normal" font-style="normal" fill="#505050" >3</text>
<text x="56.8" y="973.3" font-size="7" text-anchor="middle" font-weight="normal" font-style="normal" fill="#505050" >7</text>
<text x="80.2" y="973.3" font-size="7" text-anchor="middle" font-weight="normal" font-style="normal" fill="#505050" >15</text>
<text x="127.9" y="973.3" font-size="7" text-anchor="middle" font-weight="normal" font-style="normal" fill="#505050" >30</text>
<text x="222.8" y="973.3" font-size="7" text-anchor="middle" font-weight="normal" font-style="normal" fill="#505050" >60</text>
<text x="359.5" y="772.2" font-size="6.9" text-anchor="middle" font-weight="bold" font-style="normal" fill="#222" >pERK</text>
<text x="252.5" y="959.7" font-size="7.2" text-anchor="end" font-weight="normal" font-style="normal" fill="#505050" >0</text>
<text x="252.5" y="920.2" font-size="7.2" text-anchor="end" font-weight="normal" font-style="normal" fill="#505050" >50</text>
<text x="252.5" y="880.7" font-size="7.2" text-anchor="end" font-weight="normal" font-style="normal" fill="#505050" >100</text>
<text x="252.5" y="841.2" font-size="7.2" text-anchor="end" font-weight="normal" font-style="normal" fill="#505050" >150</text>
<text x="252.5" y="801.7" font-size="7.2" text-anchor="end" font-weight="normal" font-style="normal" fill="#505050" >200</text>
<defs><clipPath id="cb2"><polygon points="264.5,957.1 264.5,916.3 274.0,909.4 286.7,903.5 312.1,888.1 359.6,824.5 454.8,843.1 454.8,957.1"/></clipPath><clipPath id="cr2"><polygon points="264.5,957.1 264.5,922.1 274.0,914.2 286.7,911.8 312.1,908.4 359.6,881.5 454.8,901.5 454.8,957.1"/></clipPath></defs>
<polygon points="264.5,957.1 264.5,880.5 274.0,878.4 286.7,882.2 312.1,847.5 359.6,784.1 454.8,844.1 454.8,957.1" fill="#d7d8d8"/>
<polyline points="264.5,880.5 274.0,878.4 286.7,882.2 312.1,847.5 359.6,784.1 454.8,844.1" fill="none" stroke="#b3b6b6" stroke-width="2.7" stroke-linejoin="round"/>
<polygon points="264.5,957.1 264.5,916.3 274.0,909.4 286.7,903.5 312.1,888.1 359.6,824.5 454.8,843.1 454.8,957.1" fill="#9caabb"/>
<polyline points="264.5,916.3 274.0,909.4 286.7,903.5 312.1,888.1 359.6,824.5 454.8,843.1" fill="none" stroke="#5b80a8" stroke-width="2.1" stroke-linejoin="round"/>
<polygon points="264.5,957.1 264.5,922.1 274.0,914.2 286.7,911.8 312.1,908.4 359.6,881.5 454.8,901.5 454.8,957.1" fill="#b9918c"/>
<polygon points="264.5,957.1 264.5,922.1 274.0,914.2 286.7,911.8 312.1,908.4 359.6,881.5 454.8,901.5 454.8,957.1" fill="#a38585" clip-path="url(#cb2)"/>
<polyline points="264.5,916.3 274.0,909.4 286.7,903.5 312.1,888.1 359.6,824.5 454.8,843.1" fill="none" stroke="#8c7d8a" stroke-width="2.1" stroke-linejoin="round" clip-path="url(#cr2)"/>
<polyline points="264.5,922.1 274.0,914.2 286.7,911.8 312.1,908.4 359.6,881.5 454.8,901.5" fill="none" stroke="#b8675c" stroke-width="2.1" stroke-linejoin="round"/>
<circle cx="264.5" cy="916.3" r="1.7" fill="#1f6ca5"/>
<circle cx="274.0" cy="909.4" r="1.7" fill="#1f6ca5"/>
<circle cx="286.7" cy="903.5" r="1.7" fill="#1f6ca5"/>
<circle cx="312.1" cy="888.1" r="1.7" fill="#1f6ca5"/>
<circle cx="359.6" cy="824.5" r="1.7" fill="#1f6ca5"/>
<circle cx="454.8" cy="843.1" r="1.7" fill="#1f6ca5"/>
<circle cx="264.5" cy="922.1" r="1.7" fill="#9b1426"/>
<circle cx="274.0" cy="914.2" r="1.7" fill="#9b1426"/>
<circle cx="286.7" cy="911.8" r="1.7" fill="#9b1426"/>
<circle cx="312.1" cy="908.4" r="1.7" fill="#9b1426"/>
<circle cx="359.6" cy="881.5" r="1.7" fill="#9b1426"/>
<circle cx="454.8" cy="901.5" r="1.7" fill="#9b1426"/>
<text x="262.7" y="973.3" font-size="7" text-anchor="middle" font-weight="normal" font-style="normal" fill="#505050" >0</text>
<text x="272.3" y="973.3" font-size="7" text-anchor="middle" font-weight="normal" font-style="normal" fill="#505050" >3</text>
<text x="285.0" y="973.3" font-size="7" text-anchor="middle" font-weight="normal" font-style="normal" fill="#505050" >7</text>
<text x="308.4" y="973.3" font-size="7" text-anchor="middle" font-weight="normal" font-style="normal" fill="#505050" >15</text>
<text x="355.7" y="973.3" font-size="7" text-anchor="middle" font-weight="normal" font-style="normal" fill="#505050" >30</text>
<text x="450.4" y="973.3" font-size="7" text-anchor="middle" font-weight="normal" font-style="normal" fill="#505050" >60</text>
<text x="587.2" y="772.2" font-size="6.9" text-anchor="middle" font-weight="bold" font-style="normal" fill="#222" >IkBa</text>
<text x="480.5" y="959.7" font-size="7.2" text-anchor="end" font-weight="normal" font-style="normal" fill="#505050" >0</text>
<text x="480.5" y="911.4" font-size="7.2" text-anchor="end" font-weight="normal" font-style="normal" fill="#505050" >250</text>
<text x="480.5" y="863.1" font-size="7.2" text-anchor="end" font-weight="normal" font-style="normal" fill="#505050" >500</text>
<text x="480.5" y="814.8" font-size="7.2" text-anchor="end" font-weight="normal" font-style="normal" fill="#505050" >750</text>
<defs><clipPath id="cb3"><polygon points="492.2,957.1 492.2,821.1 501.8,822.8 514.5,825.1 540.0,855.3 587.7,865.3 683.2,851.6 683.2,957.1"/></clipPath><clipPath id="cr3"><polygon points="492.2,957.1 492.2,807.4 501.8,803.3 514.5,801.6 540.0,850.3 587.7,864.0 683.2,860.9 683.2,957.1"/></clipPath></defs>
<polygon points="492.2,957.1 492.2,801.0 501.8,784.4 514.5,784.4 540.0,836.5 587.7,853.9 683.2,834.4 683.2,957.1" fill="#d7d8d8"/>
<polyline points="492.2,801.0 501.8,784.4 514.5,784.4 540.0,836.5 587.7,853.9 683.2,834.4" fill="none" stroke="#b3b6b6" stroke-width="2.7" stroke-linejoin="round"/>
<polygon points="492.2,957.1 492.2,821.1 501.8,822.8 514.5,825.1 540.0,855.3 587.7,865.3 683.2,851.6 683.2,957.1" fill="#9caabb"/>
<polyline points="492.2,821.1 501.8,822.8 514.5,825.1 540.0,855.3 587.7,865.3 683.2,851.6" fill="none" stroke="#5b80a8" stroke-width="2.1" stroke-linejoin="round"/>
<polygon points="492.2,957.1 492.2,807.4 501.8,803.3 514.5,801.6 540.0,850.3 587.7,864.0 683.2,860.9 683.2,957.1" fill="#b9918c"/>
<polygon points="492.2,957.1 492.2,807.4 501.8,803.3 514.5,801.6 540.0,850.3 587.7,864.0 683.2,860.9 683.2,957.1" fill="#a38585" clip-path="url(#cb3)"/>
<polyline points="492.2,821.1 501.8,822.8 514.5,825.1 540.0,855.3 587.7,865.3 683.2,851.6" fill="none" stroke="#8c7d8a" stroke-width="2.1" stroke-linejoin="round" clip-path="url(#cr3)"/>
<polyline points="492.2,807.4 501.8,803.3 514.5,801.6 540.0,850.3 587.7,864.0 683.2,860.9" fill="none" stroke="#b8675c" stroke-width="2.1" stroke-linejoin="round"/>
<circle cx="492.2" cy="821.1" r="1.7" fill="#1f6ca5"/>
<circle cx="501.8" cy="822.8" r="1.7" fill="#1f6ca5"/>
<circle cx="514.5" cy="825.1" r="1.7" fill="#1f6ca5"/>
<circle cx="540.0" cy="855.3" r="1.7" fill="#1f6ca5"/>
<circle cx="587.7" cy="865.3" r="1.7" fill="#1f6ca5"/>
<circle cx="683.2" cy="851.6" r="1.7" fill="#1f6ca5"/>
<circle cx="492.2" cy="807.4" r="1.7" fill="#9b1426"/>
<circle cx="501.8" cy="803.3" r="1.7" fill="#9b1426"/>
<circle cx="514.5" cy="801.6" r="1.7" fill="#9b1426"/>
<circle cx="540.0" cy="850.3" r="1.7" fill="#9b1426"/>
<circle cx="587.7" cy="864.0" r="1.7" fill="#9b1426"/>
<circle cx="683.2" cy="860.9" r="1.7" fill="#9b1426"/>
<text x="490.5" y="973.3" font-size="7" text-anchor="middle" font-weight="normal" font-style="normal" fill="#505050" >0</text>
<text x="500.1" y="973.3" font-size="7" text-anchor="middle" font-weight="normal" font-style="normal" fill="#505050" >3</text>
<text x="512.8" y="973.3" font-size="7" text-anchor="middle" font-weight="normal" font-style="normal" fill="#505050" >7</text>
<text x="536.1" y="973.3" font-size="7" text-anchor="middle" font-weight="normal" font-style="normal" fill="#505050" >15</text>
<text x="583.8" y="973.3" font-size="7" text-anchor="middle" font-weight="normal" font-style="normal" fill="#505050" >30</text>
<text x="678.5" y="973.3" font-size="7" text-anchor="middle" font-weight="normal" font-style="normal" fill="#505050" >60</text>
<text x="6.6" y="870.4" font-size="6.8" text-anchor="middle" font-weight="normal" font-style="normal" fill="#1a1a1a" transform="rotate(-90 6.6 870.4)" dy="2.3">MFI Level</text>
<text x="359.5" y="982.2" font-size="6.7" text-anchor="middle" font-weight="normal" font-style="normal" fill="#222" >Stimulation Time (mins)</text>
<text x="286.6" y="1000.6" font-size="6.6" text-anchor="start" font-weight="normal" font-style="normal" fill="#222" >Treatment</text>
<rect x="319.4" y="993.9" width="11.6" height="11.6" fill="#c5c7c7"/>
<rect x="321.2" y="996.1" width="8.0" height="2.6" fill="#fff" fill-opacity="0.6"/>
<rect x="321.2" y="1000.5" width="8.0" height="3" fill="#fff" fill-opacity="0.6"/>
<text x="333.5" y="1001.6" font-size="5.4" text-anchor="start" font-weight="normal" font-style="normal" fill="#222" >No Treatment</text>
<rect x="369.9" y="993.9" width="11.6" height="11.6" fill="#9b1426"/>
<rect x="371.7" y="996.1" width="8.0" height="2.6" fill="#fff" fill-opacity="0.6"/>
<rect x="371.7" y="1000.5" width="8.0" height="3" fill="#fff" fill-opacity="0.6"/>
<text x="384.0" y="1001.6" font-size="5.4" text-anchor="start" font-weight="normal" font-style="normal" fill="#222" >Inhibitors</text>
<rect x="407.9" y="993.9" width="11.6" height="11.6" fill="#2a6aa0"/>
<rect x="409.7" y="996.1" width="8.0" height="2.6" fill="#fff" fill-opacity="0.6"/>
<rect x="409.7" y="1000.5" width="8.0" height="3" fill="#fff" fill-opacity="0.6"/>
<text x="422.0" y="1001.6" font-size="5.4" text-anchor="start" font-weight="normal" font-style="normal" fill="#222" >DCA</text>
<text x="136.1" y="1030.1" font-size="7.1" text-anchor="middle" font-weight="bold" font-style="normal" fill="#222" >pp38</text>
<text x="32.5" y="1192.7" font-size="7.4" text-anchor="end" font-weight="normal" font-style="normal" fill="#505050" >0</text>
<text x="32.5" y="1162.6" font-size="7.4" text-anchor="end" font-weight="normal" font-style="normal" fill="#505050" >10000</text>
<text x="32.5" y="1132.5" font-size="7.4" text-anchor="end" font-weight="normal" font-style="normal" fill="#505050" >20000</text>
<text x="32.5" y="1102.4" font-size="7.4" text-anchor="end" font-weight="normal" font-style="normal" fill="#505050" >30000</text>
<text x="32.5" y="1072.3" font-size="7.4" text-anchor="end" font-weight="normal" font-style="normal" fill="#505050" >40000</text>
<text x="32.5" y="1042.2" font-size="7.4" text-anchor="end" font-weight="normal" font-style="normal" fill="#505050" >50000</text>
<rect x="44.5" y="1066.1" width="56.8" height="124.0" fill="#b3b6b6"/>
<rect x="107.6" y="1123.5" width="56.8" height="66.6" fill="#8b0f1b"/>
<rect x="170.7" y="1107.4" width="56.8" height="82.7" fill="#1a6196"/>
<circle cx="72.9" cy="1044.0" r="2.6" fill="#000"/>
<circle cx="72.9" cy="1056.3" r="2.6" fill="#000"/>
<circle cx="72.9" cy="1060.8" r="2.6" fill="#000"/>
<circle cx="72.9" cy="1064.0" r="2.6" fill="#000"/>
<circle cx="72.9" cy="1077.3" r="2.6" fill="#000"/>
<circle cx="72.9" cy="1093.4" r="2.6" fill="#000"/>
<text x="75.9" y="1204.3" font-size="7.3" text-anchor="end" font-weight="normal" font-style="normal" fill="#505050" transform="rotate(-45 75.9 1204.3)">No Treatment</text>
<circle cx="136.0" cy="1116.5" r="2.6" fill="#000"/>
<circle cx="136.0" cy="1121.1" r="2.6" fill="#000"/>
<circle cx="136.0" cy="1123.9" r="2.6" fill="#000"/>
<circle cx="136.0" cy="1139.6" r="2.6" fill="#000"/>
<text x="139.0" y="1204.3" font-size="7.3" text-anchor="end" font-weight="normal" font-style="normal" fill="#505050" transform="rotate(-45 139.0 1204.3)">Inhibitors</text>
<circle cx="199.1" cy="1086.0" r="2.6" fill="#000"/>
<circle cx="199.1" cy="1104.6" r="2.6" fill="#000"/>
<circle cx="199.1" cy="1106.4" r="2.6" fill="#000"/>
<circle cx="199.1" cy="1108.1" r="2.6" fill="#000"/>
<circle cx="199.1" cy="1131.9" r="2.6" fill="#000"/>
<path d="M194.50,1034.50L194.50,1039.10M192.51,1035.65L196.49,1037.95M196.49,1035.65L192.51,1037.95" stroke="#c65a72" stroke-width="0.95" fill="none"/>
<path d="M199.10,1034.50L199.10,1039.10M197.11,1035.65L201.09,1037.95M201.09,1035.65L197.11,1037.95" stroke="#c65a72" stroke-width="0.95" fill="none"/>
<path d="M203.70,1034.50L203.70,1039.10M201.71,1035.65L205.69,1037.95M205.69,1035.65L201.71,1037.95" stroke="#c65a72" stroke-width="0.95" fill="none"/>
<text x="202.1" y="1204.3" font-size="7.3" text-anchor="end" font-weight="normal" font-style="normal" fill="#505050" transform="rotate(-45 202.1 1204.3)">DCA</text>
<text x="363.5" y="1030.0" font-size="7.1" text-anchor="middle" font-weight="bold" font-style="normal" fill="#222" >pERK</text>
<text x="260.8" y="1190.2" font-size="7.4" text-anchor="end" font-weight="normal" font-style="normal" fill="#505050" >0</text>
<text x="260.8" y="1149.8" font-size="7.4" text-anchor="end" font-weight="normal" font-style="normal" fill="#505050" >5000</text>
<text x="260.8" y="1109.4" font-size="7.4" text-anchor="end" font-weight="normal" font-style="normal" fill="#505050" >10000</text>
<text x="260.8" y="1069.0" font-size="7.4" text-anchor="end" font-weight="normal" font-style="normal" fill="#505050" >15000</text>
<rect x="272.7" y="1085.7" width="56.5" height="101.9" fill="#b3b6b6"/>
<rect x="335.7" y="1153.7" width="56.5" height="33.9" fill="#8b0f1b"/>
<rect x="398.7" y="1126.0" width="56.5" height="61.6" fill="#1a6196"/>
<circle cx="300.9" cy="1044.0" r="2.6" fill="#000"/>
<circle cx="300.9" cy="1059.0" r="2.6" fill="#000"/>
<circle cx="300.9" cy="1067.1" r="2.6" fill="#000"/>
<circle cx="300.9" cy="1070.3" r="2.6" fill="#000"/>
<circle cx="300.9" cy="1128.1" r="2.6" fill="#000"/>
<circle cx="300.9" cy="1147.7" r="2.6" fill="#000"/>
<text x="303.9" y="1201.8" font-size="7.3" text-anchor="end" font-weight="normal" font-style="normal" fill="#505050" transform="rotate(-45 303.9 1201.8)">No Treatment</text>
<circle cx="363.9" cy="1135.1" r="2.6" fill="#000"/>
<circle cx="363.9" cy="1137.2" r="2.6" fill="#000"/>
<circle cx="363.9" cy="1144.2" r="2.6" fill="#000"/>
<circle cx="363.9" cy="1177.5" r="2.6" fill="#000"/>
<circle cx="363.9" cy="1189.7" r="2.6" fill="#000"/>
<text x="366.9" y="1201.8" font-size="7.3" text-anchor="end" font-weight="normal" font-style="normal" fill="#505050" transform="rotate(-45 366.9 1201.8)">Inhibitors</text>
<circle cx="426.9" cy="1099.3" r="2.6" fill="#000"/>
<circle cx="426.9" cy="1107.1" r="2.6" fill="#000"/>
<circle cx="426.9" cy="1109.9" r="2.6" fill="#000"/>
<circle cx="426.9" cy="1114.4" r="2.6" fill="#000"/>
<circle cx="426.9" cy="1144.9" r="2.6" fill="#000"/>
<circle cx="426.9" cy="1178.9" r="2.6" fill="#000"/>
<path d="M426.95,1034.70L426.95,1039.30M424.96,1035.85L428.94,1038.15M428.94,1035.85L424.96,1038.15" stroke="#c65a72" stroke-width="0.95" fill="none"/>
<text x="429.9" y="1201.8" font-size="7.3" text-anchor="end" font-weight="normal" font-style="normal" fill="#505050" transform="rotate(-45 429.9 1201.8)">DCA</text>
<text x="591.3" y="1030.1" font-size="7.1" text-anchor="middle" font-weight="bold" font-style="normal" fill="#222" >IkBa</text>
<text x="488.0" y="1192.5" font-size="7.4" text-anchor="end" font-weight="normal" font-style="normal" fill="#505050" >0</text>
<text x="488.0" y="1159.7" font-size="7.4" text-anchor="end" font-weight="normal" font-style="normal" fill="#505050" >10000</text>
<text x="488.0" y="1126.9" font-size="7.4" text-anchor="end" font-weight="normal" font-style="normal" fill="#505050" >20000</text>
<text x="488.0" y="1094.1" font-size="7.4" text-anchor="end" font-weight="normal" font-style="normal" fill="#505050" >30000</text>
<text x="488.0" y="1061.3" font-size="7.4" text-anchor="end" font-weight="normal" font-style="normal" fill="#505050" >40000</text>
<rect x="500.8" y="1058.1" width="56.5" height="131.8" fill="#b3b6b6"/>
<rect x="563.6" y="1080.0" width="56.5" height="109.9" fill="#8b0f1b"/>
<rect x="626.4" y="1083.5" width="56.5" height="106.4" fill="#1a6196"/>
<circle cx="529.0" cy="1043.3" r="2.6" fill="#000"/>
<circle cx="529.0" cy="1046.7" r="2.6" fill="#000"/>
<circle cx="529.0" cy="1052.9" r="2.6" fill="#000"/>
<circle cx="529.0" cy="1056.3" r="2.6" fill="#000"/>
<circle cx="529.0" cy="1060.5" r="2.6" fill="#000"/>
<circle cx="529.0" cy="1088.3" r="2.6" fill="#000"/>
<text x="532.0" y="1204.1" font-size="7.3" text-anchor="end" font-weight="normal" font-style="normal" fill="#505050" transform="rotate(-45 532.0 1204.1)">No Treatment</text>
<circle cx="591.9" cy="1071.8" r="2.6" fill="#000"/>
<circle cx="591.9" cy="1074.5" r="2.6" fill="#000"/>
<circle cx="591.9" cy="1078.0" r="2.6" fill="#000"/>
<circle cx="591.9" cy="1105.8" r="2.6" fill="#000"/>
<text x="594.9" y="1204.1" font-size="7.3" text-anchor="end" font-weight="normal" font-style="normal" fill="#505050" transform="rotate(-45 594.9 1204.1)">Inhibitors</text>
<circle cx="654.6" cy="1054.6" r="2.6" fill="#000"/>
<circle cx="654.6" cy="1078.7" r="2.6" fill="#000"/>
<circle cx="654.6" cy="1083.8" r="2.6" fill="#000"/>
<circle cx="654.6" cy="1091.4" r="2.6" fill="#000"/>
<circle cx="654.6" cy="1096.2" r="2.6" fill="#000"/>
<path d="M654.65,1034.50L654.65,1039.10M652.66,1035.65L656.64,1037.95M656.64,1035.65L652.66,1037.95" stroke="#c65a72" stroke-width="0.95" fill="none"/>
<text x="657.6" y="1204.1" font-size="7.3" text-anchor="end" font-weight="normal" font-style="normal" fill="#505050" transform="rotate(-45 657.6 1204.1)">DCA</text>
<text x="7.3" y="1117.0" font-size="6.8" text-anchor="middle" font-weight="normal" font-style="normal" fill="#222" transform="rotate(-90 7.3 1117)" dy="2">AUC</text>
<text x="363.8" y="1242.6" font-size="6.6" text-anchor="middle" font-weight="normal" font-style="normal" fill="#222" >Treatment</text>
<text x="290.3" y="1261.9" font-size="6.6" text-anchor="start" font-weight="normal" font-style="normal" fill="#222" >Treatment</text>
<rect x="324.6" y="1254.8" width="9.6" height="9.6" fill="#b3b6b6"/>
<circle cx="329.4" cy="1259.6" r="2.5" fill="#000"/>
<text x="337.6" y="1261.6" font-size="5.2" text-anchor="start" font-weight="normal" font-style="normal" fill="#222" >No Treatment</text>
<rect x="373.7" y="1254.8" width="9.6" height="9.6" fill="#8b0f1b"/>
<circle cx="378.5" cy="1259.6" r="2.5" fill="#000"/>
<text x="387.3" y="1261.6" font-size="5.2" text-anchor="start" font-weight="normal" font-style="normal" fill="#222" >Inhibitors</text>
<rect x="412.9" y="1254.8" width="9.6" height="9.6" fill="#1a6196"/>
<circle cx="417.7" cy="1259.6" r="2.5" fill="#000"/>
<text x="425.9" y="1261.6" font-size="5.2" text-anchor="start" font-weight="normal" font-style="normal" fill="#222" >DCA</text>
</svg></body></html>
